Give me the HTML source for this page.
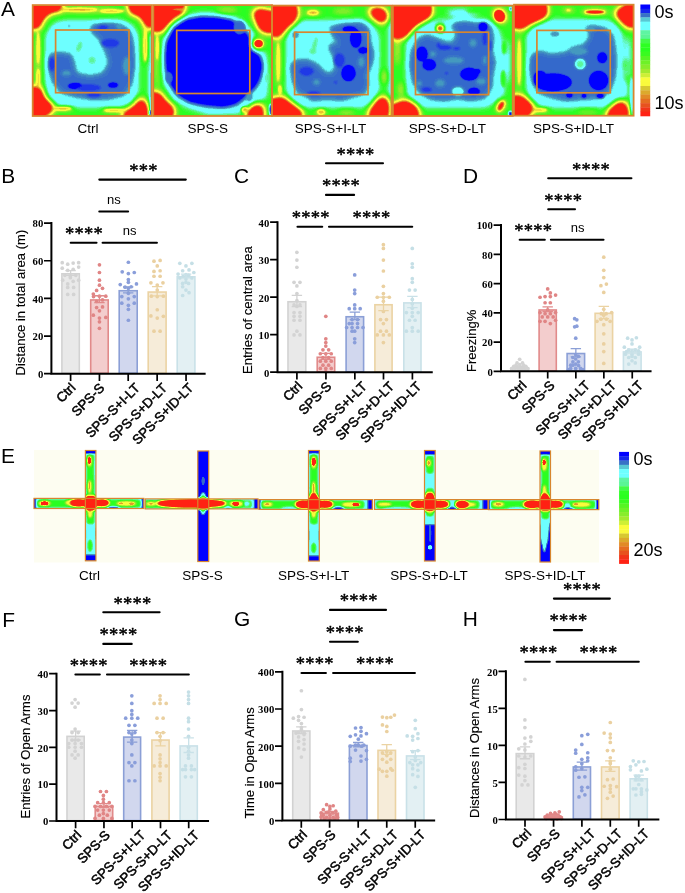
<!DOCTYPE html>
<html lang="en"><head><meta charset="utf-8"><title>Figure: open field and elevated plus maze</title>
<style>html,body{margin:0;padding:0;background:#fff}body{width:685px;height:893px;overflow:hidden}svg{display:block}.s{font-family:'Liberation Sans', Arial, Helvetica, sans-serif}.t{font-family:'Liberation Serif', 'Times New Roman', Times, serif;font-weight:bold;font-size:10.7px;letter-spacing:0.1px;text-anchor:end}.xl{font-family:'Liberation Sans', Arial, Helvetica, sans-serif;font-size:13.3px;text-anchor:end;stroke:#000;stroke-width:0.5px;stroke-linejoin:round}.yl{font-family:'Liberation Sans', Arial, Helvetica, sans-serif;font-size:13.05px;stroke:#000;stroke-width:0.15px}.st{font-family:'Liberation Serif', 'Times New Roman', Times, serif;font-size:18.6px;letter-spacing:0.2px;text-anchor:middle;stroke:#000;stroke-width:0.45px;stroke-linejoin:round}.ns{font-family:'Liberation Sans', Arial, Helvetica, sans-serif;font-size:13px;text-anchor:middle}.cap{font-family:'Liberation Sans', Arial, Helvetica, sans-serif;font-size:13.5px;text-anchor:middle}.L{font-family:'Liberation Sans', Arial, Helvetica, sans-serif;font-size:20.9px}.cb{font-family:'Liberation Sans', Arial, Helvetica, sans-serif;font-size:18px}</style></head><body>
<svg width="685" height="893" viewBox="0 0 685 893" role="img" aria-label="Open field and elevated plus maze results">
<rect width="685" height="893" fill="#fff"/>
<defs>
<filter id="hm" x="0" y="0" width="1" height="1" color-interpolation-filters="sRGB"><feGaussianBlur stdDeviation="1.0"/><feComponentTransfer><feFuncR type="discrete" tableValues="0 0 0 0 0 0 0 0 0 0.016 0.069 0.122 0.157 0.174 0.191 0.207 0.223 0.238 0.252 0.267 0.303 0.359 0.415 0.431 0.431 0.431 0.431 0.431 0.431 0.414 0.39 0.36 0.319 0.279 0.241 0.205 0.168 0.197 0.254 0.311 0.368 0.426 0.493 0.562 0.63 0.699 0.783 0.869 0.955 0.98 0.98 0.98 0.977 0.942 0.907 0.883 0.887 0.891 0.895 0.905 0.915 0.933 0.973 1 1 1 1 1 1 1 1 1 1 1 1 1 1 1 1 1"/><feFuncG type="discrete" tableValues="0 0 0 0 0 0 0 0 0 0.029 0.127 0.225 0.294 0.333 0.373 0.412 0.456 0.505 0.554 0.603 0.694 0.827 0.96 1 1 1 1 1 1 0.989 0.972 0.963 0.971 0.98 0.986 0.992 0.998 0.991 0.979 0.967 0.955 0.942 0.937 0.932 0.927 0.922 0.94 0.961 0.982 0.988 0.988 0.988 0.978 0.877 0.776 0.684 0.61 0.537 0.464 0.394 0.324 0.253 0.183 0.133 0.133 0.133 0.133 0.133 0.133 0.133 0.133 0.133 0.133 0.133 0.133 0.133 0.133 0.133 0.133 0.133"/><feFuncB type="discrete" tableValues="1 1 1 1 1 1 1 1 1 0.987 0.945 0.903 0.87 0.846 0.821 0.797 0.779 0.77 0.76 0.75 0.791 0.882 0.973 1 1 1 1 1 1 0.897 0.75 0.605 0.467 0.328 0.259 0.197 0.136 0.123 0.132 0.14 0.148 0.156 0.166 0.175 0.185 0.195 0.207 0.219 0.232 0.235 0.235 0.235 0.233 0.212 0.191 0.173 0.161 0.148 0.136 0.126 0.117 0.105 0.089 0.078 0.078 0.078 0.078 0.078 0.078 0.078 0.078 0.078 0.078 0.078 0.078 0.078 0.078 0.078 0.078 0.078"/></feComponentTransfer><feGaussianBlur stdDeviation="0.6"/></filter>
<filter id="pm" x="0" y="0" width="1" height="1" color-interpolation-filters="sRGB"><feGaussianBlur stdDeviation="0.55"/><feComponentTransfer><feFuncR type="discrete" tableValues="0 0 0 0 0 0 0 0 0 0.016 0.069 0.122 0.157 0.174 0.191 0.207 0.223 0.238 0.252 0.267 0.303 0.359 0.415 0.431 0.431 0.431 0.431 0.431 0.431 0.414 0.39 0.36 0.319 0.279 0.241 0.205 0.168 0.197 0.254 0.311 0.368 0.426 0.493 0.562 0.63 0.699 0.783 0.869 0.955 0.98 0.98 0.98 0.977 0.942 0.907 0.883 0.887 0.891 0.895 0.905 0.915 0.933 0.973 1 1 1 1 1 1 1 1 1 1 1 1 1 1 1 1 1"/><feFuncG type="discrete" tableValues="0 0 0 0 0 0 0 0 0 0.029 0.127 0.225 0.294 0.333 0.373 0.412 0.456 0.505 0.554 0.603 0.694 0.827 0.96 1 1 1 1 1 1 0.989 0.972 0.963 0.971 0.98 0.986 0.992 0.998 0.991 0.979 0.967 0.955 0.942 0.937 0.932 0.927 0.922 0.94 0.961 0.982 0.988 0.988 0.988 0.978 0.877 0.776 0.684 0.61 0.537 0.464 0.394 0.324 0.253 0.183 0.133 0.133 0.133 0.133 0.133 0.133 0.133 0.133 0.133 0.133 0.133 0.133 0.133 0.133 0.133 0.133 0.133"/><feFuncB type="discrete" tableValues="1 1 1 1 1 1 1 1 1 0.987 0.945 0.903 0.87 0.846 0.821 0.797 0.779 0.77 0.76 0.75 0.791 0.882 0.973 1 1 1 1 1 1 0.897 0.75 0.605 0.467 0.328 0.259 0.197 0.136 0.123 0.132 0.14 0.148 0.156 0.166 0.175 0.185 0.195 0.207 0.219 0.232 0.235 0.235 0.235 0.233 0.212 0.191 0.173 0.161 0.148 0.136 0.126 0.117 0.105 0.089 0.078 0.078 0.078 0.078 0.078 0.078 0.078 0.078 0.078 0.078 0.078 0.078 0.078 0.078 0.078 0.078 0.078"/></feComponentTransfer><feGaussianBlur stdDeviation="0.45"/></filter>
<filter id="bA" x="-0.5" y="-0.5" width="2" height="2" color-interpolation-filters="sRGB"><feGaussianBlur stdDeviation="2.6"/></filter>
<filter id="bE" x="-0.5" y="-0.5" width="2" height="2" color-interpolation-filters="sRGB"><feGaussianBlur stdDeviation="1.1"/></filter>
<filter id="wA" x="-0.5" y="-0.5" width="2" height="2" color-interpolation-filters="sRGB"><feGaussianBlur stdDeviation="3.6"/></filter>
<filter id="wE" x="-0.5" y="-0.5" width="2" height="2" color-interpolation-filters="sRGB"><feGaussianBlur stdDeviation="1.5"/></filter>
</defs>
<g id="panelA">
<text class="L" x="0.9" y="15.9">A</text>
<clipPath id="ca0"><rect x="32.7" y="5.1" width="119.1" height="110.9"/></clipPath>
<g clip-path="url(#ca0)"><g filter="url(#hm)"><g filter="url(#bA)">
<rect x="16.7" y="-10.9" width="151.1" height="142.9" fill="#757575"/>
<rect x="45.33" y="20.25" width="93.43" height="87.59" rx="20.07" fill="#525252"/><rect x="148.61" y="33.02" width="12.77" height="89.42" rx="0" fill="#525252"/><polygon points="47.34,54.92 57.37,51.27 71.61,53.46 74.89,62.22 76.72,72.44 90.22,75.36 102.99,72.44 108.1,62.22 104.45,51.27 97.88,38.5 89.85,31.2 90.95,23.9 106.64,20.98 121.24,22.8 131.46,31.2 135.11,47.62 136.2,65.87 132.55,84.12 125.26,95.43 110.29,99.45 93.87,100.54 75.62,97.62 61.02,93.61 51.9,82.29 47.15,69.52" fill="#323232"/><ellipse cx="84.74" cy="10.39" rx="34.67" ry="2.37" fill="#9e9e9e"/><ellipse cx="38.21" cy="62.22" rx="2.19" ry="31.02" fill="#9e9e9e"/><ellipse cx="145.33" cy="45.8" rx="2.19" ry="18.25" fill="#9e9e9e"/><ellipse cx="62.85" cy="108.93" rx="12.77" ry="2.19" fill="#9e9e9e"/><ellipse cx="113.94" cy="110.39" rx="13.69" ry="1.82" fill="#9e9e9e"/>
</g>
<g filter="url(#wA)"><polygon points="24.53,-3.47 62.12,-3.47 61.39,10.76 53.36,11.49 46.06,15.87 41.31,22.8 39.85,28.64 24.53,28.64" fill="#ffffff"/><polygon points="127.08,-3.47 161.39,-3.47 161.39,25.72 151.9,26.09 147.15,31.2 144.6,22.8 139.12,15.5 129.64,13.31" fill="#ffffff"/><polygon points="24.53,87.4 40.22,87.04 44.23,98.35 53.72,106.01 51.53,112.22 40.95,118.79 24.53,122.44" fill="#ffffff"/><polygon points="122.15,122.44 123.8,112.58 134.38,106.38 140.22,98.35 144.96,100.54 148.25,109.66 147.88,122.44" fill="#ffffff"/></g>
<ellipse cx="79.27" cy="9.66" rx="18.25" ry="1.82" fill="#b5b5b5"/><ellipse cx="112.12" cy="11.12" rx="12.77" ry="1.82" fill="#b0b0b0"/><ellipse cx="38.21" cy="78.64" rx="1.82" ry="10.04" fill="#b0b0b0"/><ellipse cx="38.21" cy="47.62" rx="1.46" ry="16.42" fill="#b0b0b0"/><ellipse cx="145.33" cy="45.8" rx="1.82" ry="16.42" fill="#b0b0b0"/><ellipse cx="62.85" cy="108.57" rx="9.12" ry="1.82" fill="#b5b5b5"/><ellipse cx="113.94" cy="110.21" rx="10.95" ry="1.82" fill="#b0b0b0"/><rect x="150.26" y="71.34" width="11.13" height="51.09" rx="0" fill="#323232"/><ellipse cx="150.8" cy="112.58" rx="1.46" ry="2.55" fill="#000000"/><ellipse cx="79.27" cy="46.71" rx="3.65" ry="6.57" fill="#636363" transform="rotate(20 79.27 46.71)"/><ellipse cx="92.04" cy="60.39" rx="4.74" ry="4.56" fill="#636363"/><ellipse cx="75.62" cy="85.94" rx="7.3" ry="2.55" fill="#000000"/><ellipse cx="113.03" cy="85.03" rx="4.56" ry="2.01" fill="#000000"/><ellipse cx="110.29" cy="43.06" rx="9.12" ry="4.38" fill="#242424"/><ellipse cx="102.99" cy="27.55" rx="5.47" ry="2.55" fill="#242424"/><ellipse cx="93.87" cy="95.07" rx="7.3" ry="2.74" fill="#242424"/><ellipse cx="51.9" cy="64.04" rx="3.28" ry="7.3" fill="#242424"/><ellipse cx="88.39" cy="87.77" rx="12.77" ry="3.65" fill="#242424"/><ellipse cx="69.23" cy="25.72" rx="1.64" ry="2.55" fill="#3e3e3e"/><ellipse cx="126.72" cy="65.87" rx="4.01" ry="9.12" fill="#3e3e3e"/><ellipse cx="119.42" cy="26.64" rx="3.65" ry="2.55" fill="#3e3e3e"/><ellipse cx="66.5" cy="73.17" rx="4.56" ry="2.74" fill="#3e3e3e"/>
</g></g>
<rect x="32.7" y="5.1" width="119.1" height="110.9" fill="none" stroke="#d7862f" stroke-width="1.8"/>
<rect x="55.6" y="30" width="73.4" height="62.7" fill="none" stroke="#d7862f" stroke-width="1.7"/>
<text class="cap" x="88" y="132.5">Ctrl</text>
<clipPath id="ca1"><rect x="153.3" y="5.1" width="118.7" height="110.9"/></clipPath>
<g clip-path="url(#ca1)"><g filter="url(#hm)"><g filter="url(#bA)">
<rect x="137.3" y="-10.9" width="150.7" height="142.9" fill="#757575"/>
<polygon points="161.31,56.74 162.77,40.32 170.44,24.81 184.67,15.69 201.09,12.58 219.34,13.31 235.77,16.6 248.54,25.72 259.49,38.5 266.79,56.74 268.61,78.64 266.79,96.89 252.19,107.84 237.59,113.68 208.39,114.77 186.5,107.84 173.72,100.54 164.6,85.94 161.31,71.34" fill="#525252"/><polygon points="165.51,56.74 166.79,42.15 174.09,27.91 186.5,19.7 201.09,16.96 217.52,17.69 232.12,20.61 241.24,27.55 249.45,36.67 250.73,49.81 259.49,55.28 262.41,65.87 259.85,78.64 255.84,86.31 246.72,95.43 235.77,104.19 222.99,107.11 204.74,105.28 190.15,102.36 177.37,95.07 170.07,84.12 166.42,71.34" fill="#000000"/><ellipse cx="208.39" cy="60.39" rx="36.5" ry="36.5" fill="#000000"/><ellipse cx="157.3" cy="62.22" rx="1.82" ry="27.37" fill="#9e9e9e"/><ellipse cx="226.64" cy="10.39" rx="10.95" ry="2.19" fill="#9e9e9e"/><ellipse cx="258.58" cy="43.61" rx="9.12" ry="8.39" fill="#757575"/><ellipse cx="258.58" cy="43.61" rx="6.2" ry="5.47" fill="#a1a1a1"/>
</g>
<g filter="url(#wA)"><polygon points="144.53,-3.47 185.04,-3.47 183.94,12.22 173.36,18.06 165.33,26.82 160.95,32.66 144.53,29.37" fill="#ffffff"/><polygon points="252.55,12.95 257.66,8.57 267.15,10.39 281.39,12.95 281.39,31.2 267.15,33.39 259.49,29.74 255.84,20.25" fill="#ffffff"/><polygon points="144.53,92.88 159.12,91.96 164.96,100.54 174.27,108.2 173.36,118.79 144.53,122.44" fill="#ffffff"/><polygon points="246.72,122.44 247.45,111.85 252.19,106.01 259.49,103.82 263.5,107.84 263.14,122.44" fill="#ffffff"/></g>
<ellipse cx="258.58" cy="43.61" rx="4.01" ry="3.47" fill="#ffffff"/><ellipse cx="239.42" cy="27.55" rx="6.57" ry="7.66" fill="#323232"/><ellipse cx="169.16" cy="77.73" rx="4.38" ry="6.2" fill="#323232"/><ellipse cx="249.45" cy="96.89" rx="4.01" ry="5.47" fill="#3e3e3e"/><ellipse cx="265.88" cy="77.73" rx="1.82" ry="4.56" fill="#636363"/><ellipse cx="270.8" cy="109.66" rx="1.28" ry="5.47" fill="#000000"/><ellipse cx="157.3" cy="47.62" rx="1.46" ry="12.77" fill="#b0b0b0"/><ellipse cx="177.37" cy="9.3" rx="7.3" ry="1.82" fill="#b0b0b0"/><ellipse cx="244.89" cy="109.66" rx="3.65" ry="2.92" fill="#b0b0b0"/>
</g></g>
<rect x="153.3" y="5.1" width="118.7" height="110.9" fill="none" stroke="#d7862f" stroke-width="1.8"/>
<rect x="176.7" y="30.4" width="73.1" height="63.1" fill="none" stroke="#d7862f" stroke-width="1.7"/>
<text class="cap" x="207.8" y="132.5">SPS-S</text>
<clipPath id="ca2"><rect x="272.1" y="5.6" width="119.4" height="110.4"/></clipPath>
<g clip-path="url(#ca2)"><g filter="url(#hm)"><g filter="url(#bA)">
<rect x="256.1" y="-10.4" width="151.4" height="142.4" fill="#757575"/>
<rect x="286.06" y="20.25" width="93.43" height="87.59" rx="20.99" fill="#525252"/><rect x="388.25" y="18.42" width="13.14" height="80.29" rx="0" fill="#525252"/><polygon points="328.39,26.64 342.99,22.07 361.24,20.25 369.64,27.55 371.46,43.06 375.11,54.01 372.55,64.96 367.81,74.99 369.64,84.12 365.26,94.34 352.12,97.99 342.99,100.91 324.74,99.99 311.97,101.82 306.5,97.26 297.37,93.61 291.9,82.29 288.98,65.87 293.72,60.03 306.5,58.2 317.45,63.13 324.74,71.34 331.13,73.17 335.33,64.96 332.04,55.83 327.48,47.62 330.22,43.06 338.43,43.97 332.04,36.67" fill="#323232"/><ellipse cx="312.88" cy="12.95" rx="9.12" ry="2.37" fill="#9e9e9e"/><ellipse cx="342.99" cy="11.12" rx="10.95" ry="1.82" fill="#9e9e9e"/><ellipse cx="278.21" cy="62.22" rx="2.19" ry="27.37" fill="#9e9e9e"/><ellipse cx="321.09" cy="112.22" rx="7.3" ry="2.19" fill="#9e9e9e"/><ellipse cx="346.64" cy="111.85" rx="9.12" ry="1.82" fill="#9e9e9e"/><ellipse cx="384.23" cy="76.82" rx="2.92" ry="7.3" fill="#9e9e9e"/>
</g>
<g filter="url(#wA)"><polygon points="264.53,-3.47 293.36,-3.47 298.47,13.68 294.09,22.07 286.79,27.55 281.31,34.85 277.3,37.95 264.53,33.02" fill="#ffffff"/><polygon points="367.81,11.12 373.65,7.47 383.5,8.57 387.52,14.41 386.42,21.34 382.41,23.53 375.84,19.7" fill="#ffffff"/><polygon points="264.53,101.45 280.95,96.53 288.25,101.27 299.2,109.66 304.31,113.68 297.37,122.44 264.53,122.44" fill="#ffffff"/><polygon points="368.18,122.44 369.64,111.12 375.84,102.36 381.31,96.53 387.15,98.35 389.34,107.84 386.79,122.44" fill="#ffffff"/></g>
<ellipse cx="312.88" cy="12.58" rx="5.84" ry="2.55" fill="#b0b0b0"/><ellipse cx="278.21" cy="62.22" rx="1.46" ry="20.07" fill="#b0b0b0"/><ellipse cx="280.04" cy="89.59" rx="1.82" ry="4.56" fill="#b0b0b0"/><ellipse cx="321.09" cy="112.04" rx="4.01" ry="2.92" fill="#b0b0b0"/><ellipse cx="314.71" cy="44.88" rx="3.28" ry="9.12" fill="#636363" transform="rotate(15 314.71 44.88)"/><ellipse cx="312.88" cy="51.27" rx="4.74" ry="4.01" fill="#636363"/><ellipse cx="295.55" cy="34.85" rx="4.01" ry="4.01" fill="#3e3e3e"/><ellipse cx="349.38" cy="29.37" rx="6.39" ry="2.55" fill="#000000"/><ellipse cx="355.77" cy="38.5" rx="5.11" ry="8.76" fill="#000000"/><ellipse cx="363.07" cy="50.36" rx="4.38" ry="2.55" fill="#000000"/><ellipse cx="348.47" cy="73.17" rx="6.57" ry="7.66" fill="#000000"/><ellipse cx="335.69" cy="82.29" rx="1.82" ry="1.46" fill="#242424"/><ellipse cx="313.8" cy="93.24" rx="7.3" ry="2.19" fill="#242424"/><ellipse cx="306.5" cy="71.34" rx="7.3" ry="4.56" fill="#242424"/><ellipse cx="339.34" cy="60.39" rx="5.47" ry="7.3" fill="#242424"/><ellipse cx="316.53" cy="82.29" rx="3.28" ry="2.92" fill="#3e3e3e"/><ellipse cx="361.24" cy="62.22" rx="3.28" ry="5.11" fill="#3e3e3e"/>
</g></g>
<rect x="272.1" y="5.6" width="119.4" height="110.4" fill="none" stroke="#d7862f" stroke-width="1.8"/>
<rect x="294.6" y="32.2" width="73.4" height="62.4" fill="none" stroke="#d7862f" stroke-width="1.7"/>
<text class="cap" x="330.5" y="132.5">SPS-S+I-LT</text>
<clipPath id="ca3"><rect x="392.9" y="5.6" width="119.8" height="110.4"/></clipPath>
<g clip-path="url(#ca3)"><g filter="url(#hm)"><g filter="url(#bA)">
<rect x="376.9" y="-10.4" width="151.8" height="142.4" fill="#757575"/>
<rect x="406.06" y="19.52" width="95.62" height="88.32" rx="20.99" fill="#525252"/><ellipse cx="506.79" cy="62.22" rx="3.28" ry="21.9" fill="#525252"/><ellipse cx="462.99" cy="12.95" rx="16.42" ry="4.01" fill="#525252"/><ellipse cx="499.49" cy="87.77" rx="5.47" ry="10.95" fill="#525252"/><polygon points="410.07,51.27 417.37,38.5 426.5,33.93 435.62,37.04 444.74,40.69 452.04,42.51 456.06,34.85 450.58,25.72 455.69,20.25 466.64,19.34 477.59,22.07 484.89,20.25 492.19,25.72 494.38,38.5 492.55,49.45 496.2,62.22 493.47,74.99 492.55,87.77 485.26,99.08 470.29,101.82 457.52,99.08 444.74,101.82 430.15,99.99 419.2,93.61 411.9,82.29 408.25,65.87" fill="#323232"/><ellipse cx="397.3" cy="47.62" rx="2.19" ry="18.25" fill="#9e9e9e"/><ellipse cx="400.95" cy="89.59" rx="2.55" ry="7.3" fill="#9e9e9e"/><ellipse cx="475.77" cy="10.76" rx="10.95" ry="1.82" fill="#757575"/><ellipse cx="503.14" cy="78.64" rx="2.55" ry="9.12" fill="#636363"/><ellipse cx="504.05" cy="47.62" rx="2.19" ry="7.3" fill="#636363"/><ellipse cx="440.18" cy="28.46" rx="4.38" ry="4.38" fill="#a1a1a1"/><ellipse cx="500.95" cy="106.01" rx="4.74" ry="7.3" fill="#a1a1a1" transform="rotate(30 500.95 106.01)"/>
</g>
<g filter="url(#wA)"><polygon points="384.53,-3.47 429.78,-3.47 432.34,13.68 426.86,19.52 417.74,24.26 410.44,31.56 405.69,37.04 399.12,39.04 384.53,34.85" fill="#ffffff"/><polygon points="493.65,11.85 499.49,8.93 505.33,14.41 505.51,20.25 501.68,22.44 496.57,18.79" fill="#ffffff"/><polygon points="384.53,106.93 396.2,103.82 402.77,100.18 410.07,102 417.74,107.84 419.93,122.44 384.53,122.44" fill="#ffffff"/></g>
<ellipse cx="440.18" cy="28.46" rx="3.83" ry="3.83" fill="#a1a1a1"/><ellipse cx="440.18" cy="28.46" rx="2.37" ry="2.37" fill="#c7c7c7"/><ellipse cx="500.95" cy="106.01" rx="4.01" ry="6.57" fill="#a1a1a1" transform="rotate(30 500.95 106.01)"/><ellipse cx="500.95" cy="106.01" rx="2.37" ry="4.93" fill="#cccccc" transform="rotate(30 500.95 106.01)"/><ellipse cx="499.49" cy="15.87" rx="6.57" ry="7.66" fill="#a1a1a1" transform="rotate(-30 499.49 15.87)"/><ellipse cx="499.49" cy="15.87" rx="4.56" ry="5.66" fill="#ffffff" transform="rotate(-30 499.49 15.87)"/><ellipse cx="504.23" cy="47.62" rx="2.37" ry="6.93" fill="#757575"/><ellipse cx="503.14" cy="78.64" rx="2.55" ry="8.76" fill="#757575"/><ellipse cx="475.77" cy="11.12" rx="9.12" ry="1.64" fill="#757575"/><ellipse cx="457.88" cy="91.42" rx="6.02" ry="4.38" fill="#525252"/><ellipse cx="421.93" cy="54.01" rx="5.11" ry="6.93" fill="#000000"/><ellipse cx="429.23" cy="64.96" rx="6.2" ry="5.11" fill="#000000"/><ellipse cx="469.38" cy="74.08" rx="8.76" ry="5.84" fill="#000000"/><ellipse cx="483.07" cy="26.64" rx="4.01" ry="4.01" fill="#000000"/><ellipse cx="484.89" cy="38.5" rx="2.55" ry="7.3" fill="#242424"/><ellipse cx="444.74" cy="47.62" rx="7.3" ry="2.55" fill="#242424"/><ellipse cx="426.5" cy="89.59" rx="5.47" ry="2.55" fill="#242424"/><ellipse cx="473.94" cy="91.42" rx="5.47" ry="3.1" fill="#000000"/><ellipse cx="477.59" cy="71.34" rx="2.74" ry="1.82" fill="#000000"/><ellipse cx="456.61" cy="48.53" rx="3.65" ry="1.82" fill="#242424"/><ellipse cx="438.36" cy="44.88" rx="1.82" ry="2.74" fill="#242424"/><ellipse cx="446.57" cy="73.17" rx="1.82" ry="1.46" fill="#242424"/><ellipse cx="490.36" cy="45.8" rx="1.46" ry="5.47" fill="#242424"/><ellipse cx="453.87" cy="60.39" rx="10.04" ry="3.65" fill="#3e3e3e"/><ellipse cx="473.03" cy="43.06" rx="3.47" ry="3.83" fill="#3e3e3e"/><ellipse cx="440.18" cy="83.2" rx="4.93" ry="3.83" fill="#3e3e3e"/><ellipse cx="481.24" cy="81.38" rx="4.93" ry="3.47" fill="#3e3e3e"/><ellipse cx="432.88" cy="54.01" rx="3.1" ry="2.74" fill="#3e3e3e"/><ellipse cx="419.2" cy="83.2" rx="2.55" ry="2.55" fill="#3e3e3e"/><ellipse cx="484.89" cy="60.39" rx="2.01" ry="4.38" fill="#3e3e3e"/><ellipse cx="510.44" cy="113.68" rx="1.64" ry="2.55" fill="#000000"/><ellipse cx="510.8" cy="8.93" rx="1.09" ry="1.82" fill="#000000"/>
</g></g>
<rect x="392.9" y="5.6" width="119.8" height="110.4" fill="none" stroke="#d7862f" stroke-width="1.8"/>
<rect x="415.5" y="32.2" width="73.1" height="62.4" fill="none" stroke="#d7862f" stroke-width="1.7"/>
<text class="cap" x="447.4" y="132.5">SPS-S+D-LT</text>
<clipPath id="ca4"><rect x="514" y="4.7" width="119.6" height="111"/></clipPath>
<g clip-path="url(#ca4)"><g filter="url(#hm)"><g filter="url(#bA)">
<rect x="498" y="-11.3" width="151.6" height="143" fill="#757575"/>
<rect x="526.33" y="19.15" width="96.72" height="88.69" rx="20.99" fill="#525252"/><ellipse cx="627.79" cy="56.74" rx="2.92" ry="20.07" fill="#525252"/><ellipse cx="622.31" cy="89.59" rx="5.47" ry="10.95" fill="#525252"/><polygon points="529.25,56.74 538.37,49.81 551.15,53.46 565.74,51.64 573.04,46.16 583.99,44.34 589.47,35.21 583.99,26.09 593.12,24.81 605.89,27.55 613.55,34.85 616.29,49.45 617.2,64.04 615.38,78.64 609.91,93.24 598.59,99.08 583.99,99.99 565.74,101.82 551.15,98.17 538.37,93.61 531.07,82.29 528.15,69.52" fill="#323232"/><ellipse cx="519.21" cy="62.22" rx="2.19" ry="29.2" fill="#9e9e9e"/><ellipse cx="540.2" cy="110.03" rx="10.95" ry="2.01" fill="#9e9e9e"/><ellipse cx="587.64" cy="111.12" rx="10.95" ry="1.64" fill="#9e9e9e"/><ellipse cx="625.05" cy="64.96" rx="2.92" ry="6.93" fill="#757575"/><ellipse cx="568.48" cy="10.39" rx="7.3" ry="2.01" fill="#a1a1a1"/><ellipse cx="594.94" cy="12.04" rx="13.69" ry="2.55" fill="#b5b5b5"/>
</g>
<g filter="url(#wA)"><polygon points="505.53,-3.47 544.21,-3.47 547.86,11.12 546.04,16.96 538.74,20.61 529.25,24.26 521.95,29.74 505.53,25.72" fill="#ffffff"/><polygon points="614.28,12.95 620.49,7.84 642.39,-3.47 642.39,26.82 628.15,27.91 620.49,20.61" fill="#ffffff"/><polygon points="505.53,97.26 520.12,94.7 527.42,100.54 534.18,106.93 531.44,112.22 521.95,122.44 505.53,122.44" fill="#ffffff"/><polygon points="606.62,122.44 607.72,112.04 613.19,106.01 620.49,101.09 625.6,102.91 628.52,111.49 627.79,122.44" fill="#ffffff"/></g>
<ellipse cx="594.94" cy="12.04" rx="10.04" ry="1.09" fill="#ffffff"/><ellipse cx="568.48" cy="10.21" rx="2.55" ry="0.91" fill="#b5b5b5"/><ellipse cx="519.21" cy="62.22" rx="1.46" ry="23.72" fill="#b0b0b0"/><ellipse cx="540.2" cy="109.85" rx="7.3" ry="1.82" fill="#b0b0b0"/><ellipse cx="580.34" cy="64.04" rx="5.11" ry="5.11" fill="#636363"/><ellipse cx="554.8" cy="33.93" rx="5.11" ry="3.28" fill="#3e3e3e"/><ellipse cx="578.52" cy="51.27" rx="9.12" ry="4.01" fill="#3e3e3e"/><ellipse cx="591.29" cy="29.37" rx="4.38" ry="2.55" fill="#3e3e3e"/><ellipse cx="552.97" cy="82.29" rx="18.25" ry="8.39" fill="#000000"/><ellipse cx="540.2" cy="78.64" rx="6.39" ry="7.3" fill="#000000"/><ellipse cx="598.59" cy="80.47" rx="9.12" ry="9.12" fill="#000000"/><ellipse cx="602.24" cy="57.66" rx="4.38" ry="4.93" fill="#000000"/><ellipse cx="569.39" cy="95.07" rx="2.74" ry="2.19" fill="#000000"/><ellipse cx="583.99" cy="95.98" rx="2.19" ry="1.82" fill="#000000"/><ellipse cx="600.42" cy="95.98" rx="3.65" ry="1.82" fill="#000000"/><ellipse cx="631.62" cy="96.89" rx="1.09" ry="20.07" fill="#323232"/>
</g></g>
<rect x="514" y="4.7" width="119.6" height="111" fill="none" stroke="#d7862f" stroke-width="1.8"/>
<rect x="536.9" y="30.4" width="73.4" height="62.4" fill="none" stroke="#d7862f" stroke-width="1.7"/>
<text class="cap" x="573.5" y="132.5">SPS-S+ID-LT</text>
<rect x="640.4" y="4.5" width="9.8" height="4.59" fill="#0000ff"/>
<rect x="640.4" y="8.79" width="9.8" height="4.59" fill="#1426ed"/>
<rect x="640.4" y="13.08" width="9.8" height="4.59" fill="#3872c6"/>
<rect x="640.4" y="17.37" width="9.8" height="4.59" fill="#58c8d4"/>
<rect x="640.4" y="21.65" width="9.8" height="4.59" fill="#6effff"/>
<rect x="640.4" y="25.94" width="9.8" height="4.59" fill="#6effff"/>
<rect x="640.4" y="30.23" width="9.8" height="4.59" fill="#5ef5a2"/>
<rect x="640.4" y="34.52" width="9.8" height="4.59" fill="#5af596"/>
<rect x="640.4" y="38.81" width="9.8" height="4.59" fill="#42fb48"/>
<rect x="640.4" y="43.1" width="9.8" height="4.59" fill="#2dff23"/>
<rect x="640.4" y="47.38" width="9.8" height="4.59" fill="#29ff1f"/>
<rect x="640.4" y="51.67" width="9.8" height="4.59" fill="#39fb20"/>
<rect x="640.4" y="55.96" width="9.8" height="4.59" fill="#55f523"/>
<rect x="640.4" y="60.25" width="9.8" height="4.59" fill="#6ef127"/>
<rect x="640.4" y="64.54" width="9.8" height="4.59" fill="#87ed2b"/>
<rect x="640.4" y="68.83" width="9.8" height="4.59" fill="#a3ea2f"/>
<rect x="640.4" y="73.12" width="9.8" height="4.59" fill="#ceef36"/>
<rect x="640.4" y="77.4" width="9.8" height="4.59" fill="#fafc3c"/>
<rect x="640.4" y="81.69" width="9.8" height="4.59" fill="#f9fa3c"/>
<rect x="640.4" y="85.98" width="9.8" height="4.59" fill="#d7c832"/>
<rect x="640.4" y="90.27" width="9.8" height="4.59" fill="#dca92c"/>
<rect x="640.4" y="94.56" width="9.8" height="4.59" fill="#e18a26"/>
<rect x="640.4" y="98.85" width="9.8" height="4.59" fill="#e56d21"/>
<rect x="640.4" y="103.13" width="9.8" height="4.59" fill="#e7521e"/>
<rect x="640.4" y="107.42" width="9.8" height="4.59" fill="#f13519"/>
<rect x="640.4" y="111.71" width="9.8" height="4.59" fill="#ff2214"/>
<text class="cb" x="654.5" y="18.2">0s</text>
<text class="cb" x="654.5" y="109.2">10s</text>
</g>
<g id="panelE">
<text class="L" x="1.1" y="462.7">E</text>
<rect x="34" y="450" width="565" height="112.5" fill="#fdfdf1"/>
<clipPath id="ce0"><rect x="34" y="498.4" width="109.8" height="10.1"/><rect x="85.4" y="450.5" width="10.5" height="110.3"/></clipPath>
<g clip-path="url(#ce0)"><g filter="url(#pm)"><g filter="url(#bE)">
<rect x="24" y="440.5" width="129.8" height="130.3" fill="#525252"/>
<rect x="36.82" y="499.56" width="104.18" height="7.94" rx="2.8" fill="#757575"/><rect x="86.57" y="454.01" width="7.94" height="70.54" rx="2.34" fill="#757575"/><rect x="76.06" y="440" width="28.03" height="13.08" rx="0" fill="#000000"/><rect x="76.06" y="555.39" width="28.03" height="24.76" rx="0" fill="#000000"/><rect x="20" y="486.72" width="15.42" height="32.7" rx="0" fill="#000000"/><rect x="142.39" y="486.72" width="17.75" height="32.7" rx="0" fill="#000000"/><ellipse cx="113.43" cy="508.44" rx="6.07" ry="1.4" fill="#000000"/><ellipse cx="90.07" cy="532.5" rx="5.14" ry="7.94" fill="#525252"/><ellipse cx="96.61" cy="533.43" rx="1.17" ry="8.18" fill="#323232"/><ellipse cx="84.7" cy="533.43" rx="1.17" ry="8.18" fill="#323232"/><ellipse cx="90.07" cy="545.58" rx="2.8" ry="6.54" fill="#757575"/><ellipse cx="95.21" cy="468.03" rx="1.17" ry="11.68" fill="#525252"/><ellipse cx="44.53" cy="503.3" rx="6.31" ry="3.04" fill="#a1a1a1"/><ellipse cx="126.28" cy="503.53" rx="10.28" ry="2.8" fill="#a1a1a1"/><ellipse cx="70.92" cy="502.6" rx="5.84" ry="3.04" fill="#a1a1a1"/><ellipse cx="89.37" cy="461.02" rx="2.8" ry="5.84" fill="#a1a1a1"/><ellipse cx="89.61" cy="486.72" rx="2.1" ry="7.01" fill="#a1a1a1"/><ellipse cx="90.07" cy="512.88" rx="2.57" ry="5.14" fill="#a1a1a1"/>
</g>
<g filter="url(#wE)"><ellipse cx="78.86" cy="502.83" rx="8.41" ry="3.74" fill="#ffffff"/><ellipse cx="101.75" cy="502.83" rx="7.47" ry="3.5" fill="#ffffff"/><rect x="85.4" y="496.06" width="10.51" height="14.01" rx="1.17" fill="#ffffff"/></g>
<ellipse cx="44.53" cy="503.3" rx="3.74" ry="1.87" fill="#ffffff"/><ellipse cx="120.91" cy="503.3" rx="2.34" ry="1.17" fill="#b5b5b5"/><ellipse cx="131.65" cy="503.77" rx="2.57" ry="1.4" fill="#b5b5b5"/><ellipse cx="89.37" cy="460.55" rx="1.52" ry="3.27" fill="#ffffff"/><ellipse cx="89.61" cy="485.55" rx="0.93" ry="3.5" fill="#b5b5b5"/>
</g></g>
<rect x="34" y="498.4" width="109.8" height="10.1" fill="none" stroke="#d7862f" stroke-width="1.2"/>
<rect x="85.4" y="450.5" width="10.5" height="110.3" fill="none" stroke="#d7862f" stroke-width="1.2"/>
<text class="cap" x="89.5" y="580.1">Ctrl</text>
<clipPath id="ce1"><rect x="145.2" y="498.9" width="112.8" height="10"/><rect x="197.8" y="451" width="10.9" height="110.5"/></clipPath>
<g clip-path="url(#ce1)"><g filter="url(#pm)"><g filter="url(#bE)">
<rect x="135.2" y="441" width="132.8" height="130.5" fill="#525252"/>
<rect x="141.68" y="500.03" width="110.25" height="7.94" rx="2.8" fill="#757575"/><rect x="195.4" y="440" width="15.18" height="57.93" rx="0" fill="#000000"/><rect x="195.4" y="509.61" width="15.18" height="70.54" rx="0" fill="#000000"/><ellipse cx="203.11" cy="503.53" rx="3.97" ry="12.15" fill="#525252"/><ellipse cx="203.11" cy="503.53" rx="3.5" ry="8.88" fill="#757575"/><rect x="254.73" y="486.72" width="15.42" height="32.7" rx="0" fill="#000000"/><ellipse cx="228.1" cy="508.2" rx="3.27" ry="1.4" fill="#323232"/><ellipse cx="246.79" cy="503.77" rx="2.8" ry="2.34" fill="#525252"/><ellipse cx="151.02" cy="503.77" rx="5.14" ry="2.34" fill="#a1a1a1"/><ellipse cx="191.2" cy="503.53" rx="36.2" ry="4.44" fill="#a1a1a1"/><ellipse cx="236.28" cy="503.77" rx="7.01" ry="3.04" fill="#a1a1a1"/>
</g>
<g filter="url(#wE)"><ellipse cx="191.2" cy="503.3" rx="33.87" ry="3.97" fill="#ffffff"/><rect x="198.2" y="498.86" width="10.04" height="9.58" rx="0.7" fill="#ffffff"/></g>
<ellipse cx="203.11" cy="480.88" rx="1.87" ry="4.2" fill="#323232"/><ellipse cx="235.81" cy="503.77" rx="3.27" ry="1.87" fill="#ffffff"/><ellipse cx="151.02" cy="503.77" rx="1.87" ry="0.93" fill="#b5b5b5"/>
</g></g>
<rect x="145.2" y="498.9" width="112.8" height="10" fill="none" stroke="#d7862f" stroke-width="1.2"/>
<rect x="197.8" y="451" width="10.9" height="110.5" fill="none" stroke="#d7862f" stroke-width="1.2"/>
<text class="cap" x="202.6" y="580.1">SPS-S</text>
<clipPath id="ce2"><rect x="259" y="499.6" width="113.3" height="9.8"/><rect x="308.5" y="450.5" width="10.8" height="110.5"/></clipPath>
<g clip-path="url(#ce2)"><g filter="url(#pm)"><g filter="url(#bE)">
<rect x="249" y="440.5" width="133.3" height="130.5" fill="#525252"/>
<rect x="260.88" y="500.5" width="103.71" height="8.18" rx="2.8" fill="#757575"/><rect x="309.93" y="454.01" width="7.94" height="70.54" rx="2.34" fill="#757575"/><rect x="301.06" y="440" width="28.03" height="12.85" rx="0" fill="#000000"/><rect x="301.06" y="556.32" width="28.03" height="23.82" rx="0" fill="#000000"/><rect x="245" y="486.72" width="14.95" height="32.7" rx="0" fill="#000000"/><rect x="368.33" y="486.72" width="16.82" height="32.7" rx="0" fill="#000000"/><ellipse cx="289.38" cy="508.44" rx="8.18" ry="1.64" fill="#525252"/><ellipse cx="338.43" cy="508.91" rx="5.61" ry="1.64" fill="#000000"/><ellipse cx="313.91" cy="533.43" rx="5.14" ry="8.41" fill="#525252"/><ellipse cx="319.98" cy="535.77" rx="1.17" ry="9.34" fill="#323232"/><ellipse cx="308.07" cy="535.77" rx="1.17" ry="9.34" fill="#323232"/><ellipse cx="313.67" cy="547.91" rx="2.8" ry="5.61" fill="#757575"/><ellipse cx="267.66" cy="504.23" rx="5.14" ry="2.57" fill="#a1a1a1"/><ellipse cx="351.28" cy="504.47" rx="9.81" ry="2.8" fill="#a1a1a1"/><ellipse cx="313.67" cy="462.19" rx="3.04" ry="6.54" fill="#a1a1a1"/><ellipse cx="313.67" cy="488.35" rx="2.1" ry="7.01" fill="#a1a1a1"/><ellipse cx="313.67" cy="513.34" rx="2.57" ry="4.67" fill="#a1a1a1"/>
</g>
<g filter="url(#wE)"><ellipse cx="303.39" cy="504.23" rx="7.94" ry="3.97" fill="#ffffff"/><ellipse cx="324.88" cy="504.23" rx="7.94" ry="3.74" fill="#ffffff"/><rect x="308.3" y="497.46" width="11.21" height="13.08" rx="1.17" fill="#ffffff"/><ellipse cx="313.67" cy="497.23" rx="3.27" ry="3.97" fill="#ffffff"/></g>
<ellipse cx="267.19" cy="504.23" rx="2.1" ry="1.17" fill="#b5b5b5"/><ellipse cx="355.95" cy="504.7" rx="3.27" ry="1.4" fill="#ffffff"/><ellipse cx="313.67" cy="461.72" rx="1.87" ry="3.74" fill="#ffffff"/><ellipse cx="313.67" cy="487.88" rx="0.93" ry="4.44" fill="#b5b5b5"/>
</g></g>
<rect x="259" y="499.6" width="113.3" height="9.8" fill="none" stroke="#d7862f" stroke-width="1.2"/>
<rect x="308.5" y="450.5" width="10.8" height="110.5" fill="none" stroke="#d7862f" stroke-width="1.2"/>
<text class="cap" x="313.6" y="580.1">SPS-S+I-LT</text>
<clipPath id="ce3"><rect x="374.5" y="499.6" width="113.5" height="9.8"/><rect x="424.5" y="450.5" width="10.7" height="110.5"/></clipPath>
<g clip-path="url(#ce3)"><g filter="url(#pm)"><g filter="url(#bE)">
<rect x="364.5" y="440.5" width="133.5" height="130.5" fill="#525252"/>
<rect x="375.88" y="500.5" width="103.71" height="8.18" rx="2.8" fill="#757575"/><rect x="426.1" y="455.42" width="7.71" height="18.45" rx="2.34" fill="#757575"/><rect x="426.1" y="487.88" width="7.71" height="28.73" rx="1.87" fill="#757575"/><rect x="416.06" y="440" width="28.03" height="14.01" rx="0" fill="#000000"/><rect x="416.06" y="525.26" width="28.03" height="54.89" rx="0" fill="#000000"/><rect x="483.33" y="486.72" width="16.82" height="32.7" rx="0" fill="#000000"/><ellipse cx="397.37" cy="508.67" rx="14.01" ry="1.64" fill="#525252"/><ellipse cx="452.26" cy="504.47" rx="2.57" ry="5.14" fill="#525252"/><ellipse cx="452.26" cy="509.14" rx="4.67" ry="1.64" fill="#000000"/><ellipse cx="384.53" cy="504.23" rx="7.47" ry="2.1" fill="#a1a1a1"/><ellipse cx="470.25" cy="504.47" rx="5.84" ry="2.34" fill="#a1a1a1"/><ellipse cx="428.67" cy="462.89" rx="2.57" ry="3.74" fill="#a1a1a1"/><ellipse cx="429.84" cy="510.07" rx="2.8" ry="4.2" fill="#8c8c8c"/>
</g>
<g filter="url(#wE)"><ellipse cx="462.07" cy="504.47" rx="6.31" ry="3.97" fill="#ffffff"/><ellipse cx="418.39" cy="504.23" rx="7.94" ry="3.97" fill="#ffffff"/><ellipse cx="440.58" cy="504.23" rx="7.94" ry="3.74" fill="#ffffff"/><rect x="424.23" y="497.46" width="11.21" height="13.08" rx="1.17" fill="#ffffff"/><ellipse cx="429.84" cy="496.06" rx="4.2" ry="3.27" fill="#ffffff"/></g>
<ellipse cx="430.07" cy="533.43" rx="1.64" ry="9.34" fill="#323232"/><ellipse cx="430.07" cy="547.45" rx="2.34" ry="2.34" fill="#525252"/><ellipse cx="428.67" cy="462.89" rx="1.4" ry="2.1" fill="#b5b5b5"/>
</g></g>
<rect x="374.5" y="499.6" width="113.5" height="9.8" fill="none" stroke="#d7862f" stroke-width="1.2"/>
<rect x="424.5" y="450.5" width="10.7" height="110.5" fill="none" stroke="#d7862f" stroke-width="1.2"/>
<text class="cap" x="429" y="580.1">SPS-S+D-LT</text>
<clipPath id="ce4"><rect x="488.5" y="499.6" width="110.3" height="10"/><rect x="540" y="451" width="10.5" height="111"/></clipPath>
<g clip-path="url(#ce4)"><g filter="url(#pm)"><g filter="url(#bE)">
<rect x="478.5" y="441" width="130.3" height="131" fill="#525252"/>
<rect x="490.42" y="500.5" width="105.11" height="8.41" rx="2.8" fill="#757575"/><rect x="541.34" y="454.95" width="7.94" height="64.47" rx="2.34" fill="#757575"/><rect x="531.06" y="440" width="28.03" height="14.01" rx="0" fill="#000000"/><rect x="531.06" y="554.45" width="28.03" height="25.69" rx="0" fill="#000000"/><rect x="475" y="486.72" width="14.48" height="32.7" rx="0" fill="#000000"/><rect x="596.93" y="486.72" width="18.22" height="32.7" rx="0" fill="#000000"/><ellipse cx="517.04" cy="508.67" rx="9.34" ry="1.64" fill="#525252"/><ellipse cx="567.26" cy="505.87" rx="3.27" ry="2.8" fill="#525252"/><ellipse cx="568.43" cy="509.37" rx="5.84" ry="1.4" fill="#000000"/><rect x="531.06" y="532.26" width="28.03" height="47.88" rx="0" fill="#000000"/><ellipse cx="544.37" cy="533.43" rx="4.67" ry="14.01" fill="#525252"/><ellipse cx="544.37" cy="540.44" rx="2.57" ry="12.85" fill="#525252"/><ellipse cx="551.15" cy="533.43" rx="1.64" ry="11.68" fill="#000000"/><ellipse cx="538.3" cy="533.43" rx="1.64" ry="11.68" fill="#000000"/><ellipse cx="498.36" cy="504.23" rx="6.07" ry="2.8" fill="#a1a1a1"/><ellipse cx="581.28" cy="504.47" rx="9.81" ry="2.8" fill="#a1a1a1"/><ellipse cx="544.14" cy="464.53" rx="3.04" ry="6.54" fill="#a1a1a1"/><ellipse cx="544.37" cy="490.69" rx="2.1" ry="5.84" fill="#a1a1a1"/>
</g>
<g filter="url(#wE)"><ellipse cx="532.23" cy="504.23" rx="8.64" ry="3.97" fill="#ffffff"/><ellipse cx="555.58" cy="504.23" rx="7.47" ry="3.74" fill="#ffffff"/><rect x="539.7" y="497.46" width="10.98" height="13.08" rx="1.17" fill="#ffffff"/><ellipse cx="544.84" cy="496.99" rx="3.74" ry="3.27" fill="#ffffff"/></g>
<ellipse cx="498.36" cy="504.23" rx="2.8" ry="1.4" fill="#b5b5b5"/><ellipse cx="575.91" cy="504.23" rx="2.34" ry="1.17" fill="#b5b5b5"/><ellipse cx="544.14" cy="462.19" rx="1.4" ry="2.57" fill="#ffffff"/><ellipse cx="544.37" cy="542.77" rx="1.64" ry="5.84" fill="#525252"/>
</g></g>
<rect x="488.5" y="499.6" width="110.3" height="10" fill="none" stroke="#d7862f" stroke-width="1.2"/>
<rect x="540" y="451" width="10.5" height="111" fill="none" stroke="#d7862f" stroke-width="1.2"/>
<text class="cap" x="545" y="580.1">SPS-S+ID-LT</text>
<rect x="619.1" y="451.9" width="9.9" height="4.6" fill="#0000ff"/>
<rect x="619.1" y="456.2" width="9.9" height="4.6" fill="#1426ed"/>
<rect x="619.1" y="460.49" width="9.9" height="4.6" fill="#3872c6"/>
<rect x="619.1" y="464.79" width="9.9" height="4.6" fill="#58c8d4"/>
<rect x="619.1" y="469.08" width="9.9" height="4.6" fill="#6effff"/>
<rect x="619.1" y="473.38" width="9.9" height="4.6" fill="#6effff"/>
<rect x="619.1" y="477.68" width="9.9" height="4.6" fill="#5ef5a2"/>
<rect x="619.1" y="481.97" width="9.9" height="4.6" fill="#5af596"/>
<rect x="619.1" y="486.27" width="9.9" height="4.6" fill="#42fb48"/>
<rect x="619.1" y="490.57" width="9.9" height="4.6" fill="#2dff23"/>
<rect x="619.1" y="494.86" width="9.9" height="4.6" fill="#29ff1f"/>
<rect x="619.1" y="499.16" width="9.9" height="4.6" fill="#39fb20"/>
<rect x="619.1" y="503.45" width="9.9" height="4.6" fill="#55f523"/>
<rect x="619.1" y="507.75" width="9.9" height="4.6" fill="#6ef127"/>
<rect x="619.1" y="512.05" width="9.9" height="4.6" fill="#87ed2b"/>
<rect x="619.1" y="516.34" width="9.9" height="4.6" fill="#a3ea2f"/>
<rect x="619.1" y="520.64" width="9.9" height="4.6" fill="#ceef36"/>
<rect x="619.1" y="524.93" width="9.9" height="4.6" fill="#fafc3c"/>
<rect x="619.1" y="529.23" width="9.9" height="4.6" fill="#f9fa3c"/>
<rect x="619.1" y="533.53" width="9.9" height="4.6" fill="#d7c832"/>
<rect x="619.1" y="537.82" width="9.9" height="4.6" fill="#dca92c"/>
<rect x="619.1" y="542.12" width="9.9" height="4.6" fill="#e18a26"/>
<rect x="619.1" y="546.42" width="9.9" height="4.6" fill="#e56d21"/>
<rect x="619.1" y="550.71" width="9.9" height="4.6" fill="#e7521e"/>
<rect x="619.1" y="555.01" width="9.9" height="4.6" fill="#f13519"/>
<rect x="619.1" y="559.3" width="9.9" height="4.6" fill="#ff2214"/>
<text class="cb" x="633.5" y="464.8">0s</text>
<text class="cb" x="633.5" y="555.6">20s</text>
</g>
<g id="chartB">
<text class="L" x="1.3" y="182.7">B</text>
<rect x="61.9" y="273.79" width="17.4" height="99.51" fill="#e9e9e9" stroke="#d2d2d2" stroke-width="1.6"/>
<rect x="90.7" y="299.95" width="17.5" height="73.35" fill="#f3cdcd" stroke="#e18a8a" stroke-width="1.6"/>
<rect x="119.2" y="290.73" width="18" height="82.57" fill="#d1d7ee" stroke="#8b9fd6" stroke-width="1.6"/>
<rect x="148.2" y="292.05" width="17.9" height="81.25" fill="#f6ecd9" stroke="#ebd3a3" stroke-width="1.6"/>
<rect x="177.2" y="276.8" width="17.7" height="96.5" fill="#e3f0f3" stroke="#c9e1e8" stroke-width="1.6"/>
<g fill="#d3d3d3"><circle cx="62.23" cy="262.66" r="1.85"/><circle cx="67.7" cy="264.2" r="1.85"/><circle cx="73.18" cy="263.1" r="1.85"/><circle cx="78.65" cy="262.66" r="1.85"/><circle cx="62.23" cy="268.14" r="1.85"/><circle cx="67.7" cy="270.33" r="1.85"/><circle cx="73.18" cy="269.23" r="1.85"/><circle cx="78.65" cy="267.04" r="1.85"/><circle cx="64.85" cy="275.36" r="1.85"/><circle cx="70.33" cy="276.02" r="1.85"/><circle cx="75.8" cy="275.36" r="1.85"/><circle cx="62.66" cy="280.18" r="1.85"/><circle cx="78.65" cy="280.18" r="1.85"/><circle cx="73.18" cy="281.28" r="1.85"/><circle cx="67.7" cy="283.91" r="1.85"/><circle cx="67.7" cy="287.41" r="1.85"/><circle cx="73.61" cy="287.41" r="1.85"/><circle cx="67.7" cy="294.42" r="1.85"/><circle cx="73.61" cy="294.42" r="1.85"/><circle cx="70.33" cy="277.77" r="1.85"/></g>
<path d="M65.4 270.54H75.8M70.6 270.54V275.43M65.4 275.43H75.8" stroke="#d2d2d2" stroke-width="1.3" fill="none"/>
<g fill="#e08585"><circle cx="99.45" cy="264.85" r="1.85"/><circle cx="99.45" cy="272.52" r="1.85"/><circle cx="99.45" cy="280.18" r="1.85"/><circle cx="99.45" cy="285.22" r="1.85"/><circle cx="102.52" cy="288.28" r="1.85"/><circle cx="96.61" cy="290.47" r="1.85"/><circle cx="93.32" cy="293.98" r="1.85"/><circle cx="93.54" cy="296.61" r="1.85"/><circle cx="99.45" cy="296.17" r="1.85"/><circle cx="105.8" cy="296.17" r="1.85"/><circle cx="96.61" cy="301.42" r="1.85"/><circle cx="96.61" cy="307.55" r="1.85"/><circle cx="102.52" cy="306.9" r="1.85"/><circle cx="99.45" cy="310.84" r="1.85"/><circle cx="93.32" cy="315.22" r="1.85"/><circle cx="99.45" cy="318.07" r="1.85"/><circle cx="105.8" cy="317.41" r="1.85"/><circle cx="99.45" cy="321.79" r="1.85"/><circle cx="99.45" cy="328.36" r="1.85"/><circle cx="102.52" cy="299.89" r="1.85"/></g>
<path d="M94.25 295.76H104.65M99.45 295.76V302.54M94.25 302.54H104.65" stroke="#e18a8a" stroke-width="1.3" fill="none"/>
<g fill="#8a9eda"><circle cx="128.36" cy="262.23" r="1.85"/><circle cx="122.23" cy="271.86" r="1.85"/><circle cx="134.27" cy="272.52" r="1.85"/><circle cx="128.36" cy="273.61" r="1.85"/><circle cx="128.36" cy="279.53" r="1.85"/><circle cx="128.36" cy="282.37" r="1.85"/><circle cx="120.26" cy="284.56" r="1.85"/><circle cx="136.46" cy="283.91" r="1.85"/><circle cx="125.07" cy="287.19" r="1.85"/><circle cx="131.2" cy="286.75" r="1.85"/><circle cx="128.36" cy="288.28" r="1.85"/><circle cx="121.79" cy="296.61" r="1.85"/><circle cx="134.27" cy="296.61" r="1.85"/><circle cx="128.36" cy="298.8" r="1.85"/><circle cx="121.79" cy="303.18" r="1.85"/><circle cx="134.27" cy="303.18" r="1.85"/><circle cx="128.36" cy="305.36" r="1.85"/><circle cx="128.36" cy="309.31" r="1.85"/><circle cx="128.36" cy="320.26" r="1.85"/><circle cx="128.36" cy="293.32" r="1.85"/></g>
<path d="M123 286.92H133.4M128.2 286.92V292.94M123 292.94H133.4" stroke="#8b9fd6" stroke-width="1.3" fill="none"/>
<g fill="#ead0a0"><circle cx="153.98" cy="261.13" r="1.85"/><circle cx="160.11" cy="260.47" r="1.85"/><circle cx="157.26" cy="265.95" r="1.85"/><circle cx="153.98" cy="271.42" r="1.85"/><circle cx="160.11" cy="270.77" r="1.85"/><circle cx="153.98" cy="276.24" r="1.85"/><circle cx="160.11" cy="276.24" r="1.85"/><circle cx="150.91" cy="282.81" r="1.85"/><circle cx="162.96" cy="282.81" r="1.85"/><circle cx="157.26" cy="285" r="1.85"/><circle cx="151.35" cy="296.17" r="1.85"/><circle cx="157.26" cy="296.61" r="1.85"/><circle cx="163.39" cy="296.17" r="1.85"/><circle cx="157.26" cy="309.74" r="1.85"/><circle cx="150.91" cy="315.88" r="1.85"/><circle cx="157.26" cy="318.07" r="1.85"/><circle cx="163.39" cy="316.31" r="1.85"/><circle cx="153.98" cy="331.2" r="1.85"/><circle cx="160.11" cy="331.2" r="1.85"/><circle cx="157.26" cy="290.04" r="1.85"/></g>
<path d="M151.95 286.63H162.35M157.15 286.63V295.86M151.95 295.86H162.35" stroke="#ebd3a3" stroke-width="1.3" fill="none"/>
<g fill="#c5dfe6"><circle cx="179.82" cy="263.32" r="1.85"/><circle cx="185.95" cy="265.95" r="1.85"/><circle cx="191.86" cy="263.32" r="1.85"/><circle cx="182.66" cy="270.77" r="1.85"/><circle cx="189.01" cy="269.89" r="1.85"/><circle cx="178.07" cy="274.05" r="1.85"/><circle cx="193.83" cy="272.52" r="1.85"/><circle cx="185.95" cy="274.71" r="1.85"/><circle cx="179.82" cy="277.99" r="1.85"/><circle cx="185.95" cy="279.09" r="1.85"/><circle cx="191.86" cy="277.99" r="1.85"/><circle cx="182.66" cy="283.47" r="1.85"/><circle cx="188.58" cy="283.47" r="1.85"/><circle cx="182.66" cy="286.75" r="1.85"/><circle cx="185.95" cy="290.04" r="1.85"/><circle cx="189.01" cy="292.66" r="1.85"/><circle cx="182.66" cy="295.51" r="1.85"/><circle cx="188.58" cy="275.15" r="1.85"/><circle cx="183.1" cy="276.46" r="1.85"/><circle cx="185.95" cy="282.37" r="1.85"/></g>
<path d="M180.85 274.12H191.25M186.05 274.12V277.88M180.85 277.88H191.25" stroke="#c9e1e8" stroke-width="1.3" fill="none"/>
<path d="M51.4 223.1V373.7H204.65" stroke="#000" stroke-width="2.0" fill="none" stroke-linecap="square"/>
<path d="M44 373.7H51.4M44 336.05H51.4M44 298.4H51.4M44 260.75H51.4M44 223.1H51.4M70.6 373.7V380.9M99.45 373.7V380.9M128.2 373.7V380.9M157.15 373.7V380.9M186.05 373.7V380.9" stroke="#000" stroke-width="1.7" fill="none"/>
<text class="t" x="43.4" y="378">0</text>
<text class="t" x="43.4" y="340.35">20</text>
<text class="t" x="43.4" y="302.7">40</text>
<text class="t" x="43.4" y="265.05">60</text>
<text class="t" x="43.4" y="227.4">80</text>
<text class="xl" transform="translate(76.3 388.7) rotate(-45)">Ctrl</text>
<text class="xl" transform="translate(105.25 388.7) rotate(-45)">SPS-S</text>
<text class="xl" transform="translate(140.7 388.7) rotate(-45)">SPS-S+I-LT</text>
<text class="xl" transform="translate(168.05 388.7) rotate(-45)">SPS-S+D-LT</text>
<text class="xl" transform="translate(194.35 388.7) rotate(-45)">SPS-S+ID-LT</text>
<text class="yl" transform="translate(25.4 375.5) rotate(-90)">Distance in total area (m)</text>
<path d="M99.3 179.6H185.8" stroke="#000" stroke-width="2.1" stroke-linecap="round"/>
<text class="st" x="143.5" y="176.9">***</text>
<path d="M99.3 211.5H128.1" stroke="#000" stroke-width="2.1" stroke-linecap="round"/>
<text class="ns" x="113.8" y="204.1">ns</text>
<path d="M70.7 242.7H96.5" stroke="#000" stroke-width="2.1" stroke-linecap="round"/>
<text class="st" x="84.1" y="240">****</text>
<path d="M102.6 242.7H156.9" stroke="#000" stroke-width="2.1" stroke-linecap="round"/>
<text class="ns" x="129.6" y="235.3">ns</text>
</g>
<g id="chartC">
<text class="L" x="233.9" y="182.6">C</text>
<rect x="288" y="301.75" width="17.8" height="70.05" fill="#e9e9e9" stroke="#d2d2d2" stroke-width="1.6"/>
<rect x="317.2" y="357.25" width="17.5" height="14.55" fill="#f3cdcd" stroke="#e18a8a" stroke-width="1.6"/>
<rect x="346.1" y="316.75" width="17.5" height="55.05" fill="#d1d7ee" stroke="#8b9fd6" stroke-width="1.6"/>
<rect x="374.9" y="304.75" width="17.2" height="67.05" fill="#f6ecd9" stroke="#ebd3a3" stroke-width="1.6"/>
<rect x="403.8" y="302.88" width="17.2" height="68.92" fill="#e3f0f3" stroke="#c9e1e8" stroke-width="1.6"/>
<g fill="#d3d3d3"><circle cx="296.89" cy="252.37" r="1.85"/><circle cx="296.89" cy="260.04" r="1.85"/><circle cx="296.89" cy="267.26" r="1.85"/><circle cx="294.04" cy="282.37" r="1.85"/><circle cx="299.96" cy="282.37" r="1.85"/><circle cx="296.89" cy="285.88" r="1.85"/><circle cx="296.89" cy="293.54" r="1.85"/><circle cx="294.04" cy="304.93" r="1.85"/><circle cx="299.96" cy="304.93" r="1.85"/><circle cx="296.89" cy="306.46" r="1.85"/><circle cx="294.04" cy="312.59" r="1.85"/><circle cx="299.96" cy="312.59" r="1.85"/><circle cx="294.04" cy="316.31" r="1.85"/><circle cx="299.96" cy="316.31" r="1.85"/><circle cx="294.04" cy="320.26" r="1.85"/><circle cx="299.96" cy="320.26" r="1.85"/><circle cx="296.89" cy="331.2" r="1.85"/><circle cx="294.04" cy="334.93" r="1.85"/><circle cx="299.96" cy="334.93" r="1.85"/><circle cx="296.89" cy="300.55" r="1.85"/></g>
<path d="M291.7 295.32H302.1M296.9 295.32V306.57M291.7 306.57H302.1" stroke="#d2d2d2" stroke-width="1.3" fill="none"/>
<g fill="#e08585"><circle cx="325.8" cy="316.31" r="1.85"/><circle cx="325.8" cy="338.87" r="1.85"/><circle cx="325.8" cy="342.59" r="1.85"/><circle cx="325.8" cy="346.09" r="1.85"/><circle cx="322.95" cy="349.82" r="1.85"/><circle cx="328.64" cy="349.82" r="1.85"/><circle cx="320.32" cy="353.76" r="1.85"/><circle cx="325.8" cy="353.76" r="1.85"/><circle cx="331.27" cy="353.76" r="1.85"/><circle cx="322.95" cy="357.48" r="1.85"/><circle cx="328.64" cy="357.48" r="1.85"/><circle cx="320.32" cy="361.2" r="1.85"/><circle cx="325.8" cy="361.2" r="1.85"/><circle cx="331.27" cy="361.2" r="1.85"/><circle cx="322.95" cy="365.15" r="1.85"/><circle cx="328.64" cy="365.15" r="1.85"/><circle cx="325.8" cy="368.43" r="1.85"/><circle cx="325.8" cy="371.72" r="1.85"/><circle cx="320.32" cy="368.43" r="1.85"/><circle cx="331.27" cy="368.43" r="1.85"/></g>
<path d="M320.75 353.45H331.15M325.95 353.45V359.45M320.75 359.45H331.15" stroke="#e18a8a" stroke-width="1.3" fill="none"/>
<g fill="#8a9eda"><circle cx="354.7" cy="274.93" r="1.85"/><circle cx="354.7" cy="290.04" r="1.85"/><circle cx="354.7" cy="293.54" r="1.85"/><circle cx="354.7" cy="304.93" r="1.85"/><circle cx="349.23" cy="308.65" r="1.85"/><circle cx="354.7" cy="308.65" r="1.85"/><circle cx="360.18" cy="308.65" r="1.85"/><circle cx="352.07" cy="319.6" r="1.85"/><circle cx="357.55" cy="319.6" r="1.85"/><circle cx="349.23" cy="323.54" r="1.85"/><circle cx="352.07" cy="323.54" r="1.85"/><circle cx="357.55" cy="323.54" r="1.85"/><circle cx="363.02" cy="327.48" r="1.85"/><circle cx="352.07" cy="327.48" r="1.85"/><circle cx="357.55" cy="327.48" r="1.85"/><circle cx="346.6" cy="327.48" r="1.85"/><circle cx="352.07" cy="331.2" r="1.85"/><circle cx="354.7" cy="331.2" r="1.85"/><circle cx="354.7" cy="338.87" r="1.85"/><circle cx="354.7" cy="342.59" r="1.85"/></g>
<path d="M349.65 312.2H360.05M354.85 312.2V319.7M349.65 319.7H360.05" stroke="#8b9fd6" stroke-width="1.3" fill="none"/>
<g fill="#ead0a0"><circle cx="383.39" cy="244.71" r="1.85"/><circle cx="383.39" cy="248.43" r="1.85"/><circle cx="383.39" cy="260.04" r="1.85"/><circle cx="383.39" cy="270.99" r="1.85"/><circle cx="383.39" cy="286.31" r="1.85"/><circle cx="383.39" cy="293.54" r="1.85"/><circle cx="377.26" cy="297.26" r="1.85"/><circle cx="383.39" cy="297.26" r="1.85"/><circle cx="389.3" cy="297.26" r="1.85"/><circle cx="383.39" cy="301.2" r="1.85"/><circle cx="380.54" cy="319.6" r="1.85"/><circle cx="386.45" cy="319.6" r="1.85"/><circle cx="383.39" cy="323.54" r="1.85"/><circle cx="380.54" cy="331.2" r="1.85"/><circle cx="386.45" cy="331.2" r="1.85"/><circle cx="377.26" cy="334.93" r="1.85"/><circle cx="389.3" cy="334.93" r="1.85"/><circle cx="383.39" cy="334.93" r="1.85"/><circle cx="383.39" cy="342.59" r="1.85"/><circle cx="383.39" cy="311.5" r="1.85"/></g>
<path d="M378.3 297.2H388.7M383.5 297.2V310.7M378.3 310.7H388.7" stroke="#ebd3a3" stroke-width="1.3" fill="none"/>
<g fill="#c5dfe6"><circle cx="412.29" cy="248.43" r="1.85"/><circle cx="412.29" cy="263.76" r="1.85"/><circle cx="412.29" cy="267.26" r="1.85"/><circle cx="412.29" cy="278.65" r="1.85"/><circle cx="412.29" cy="282.37" r="1.85"/><circle cx="409.45" cy="290.04" r="1.85"/><circle cx="415.14" cy="290.04" r="1.85"/><circle cx="412.29" cy="308.21" r="1.85"/><circle cx="406.38" cy="312.59" r="1.85"/><circle cx="412.29" cy="312.59" r="1.85"/><circle cx="418.2" cy="312.59" r="1.85"/><circle cx="412.29" cy="316.31" r="1.85"/><circle cx="409.45" cy="320.26" r="1.85"/><circle cx="415.14" cy="320.26" r="1.85"/><circle cx="412.29" cy="327.48" r="1.85"/><circle cx="406.38" cy="331.2" r="1.85"/><circle cx="412.29" cy="331.2" r="1.85"/><circle cx="418.2" cy="331.2" r="1.85"/><circle cx="412.29" cy="299.45" r="1.85"/><circle cx="412.29" cy="303.83" r="1.85"/></g>
<path d="M407.2 296.45H417.6M412.4 296.45V307.7M407.2 307.7H417.6" stroke="#c9e1e8" stroke-width="1.3" fill="none"/>
<path d="M277.5 222.2V372.2H431.75" stroke="#000" stroke-width="2.0" fill="none" stroke-linecap="square"/>
<path d="M270.1 372.2H277.5M270.1 334.7H277.5M270.1 297.2H277.5M270.1 259.7H277.5M270.1 222.2H277.5M296.9 372.2V379.4M325.95 372.2V379.4M354.85 372.2V379.4M383.5 372.2V379.4M412.4 372.2V379.4" stroke="#000" stroke-width="1.7" fill="none"/>
<text class="t" x="269.5" y="376.5">0</text>
<text class="t" x="269.5" y="339">10</text>
<text class="t" x="269.5" y="301.5">20</text>
<text class="t" x="269.5" y="264">30</text>
<text class="t" x="269.5" y="226.5">40</text>
<text class="xl" transform="translate(303.1 387.2) rotate(-45)">Ctrl</text>
<text class="xl" transform="translate(332.25 387.2) rotate(-45)">SPS-S</text>
<text class="xl" transform="translate(367.85 387.2) rotate(-45)">SPS-S+I-LT</text>
<text class="xl" transform="translate(394.9 387.2) rotate(-45)">SPS-S+D-LT</text>
<text class="xl" transform="translate(422.2 387.2) rotate(-45)">SPS-S+ID-LT</text>
<text class="yl" transform="translate(252.4 374) rotate(-90)">Entries of central area</text>
<path d="M326 163.3H383" stroke="#000" stroke-width="2.1" stroke-linecap="round"/>
<text class="st" x="355.4" y="160.6">****</text>
<path d="M326 194.9H354.1" stroke="#000" stroke-width="2.1" stroke-linecap="round"/>
<text class="st" x="341" y="192.2">****</text>
<path d="M297.5 226.8H322.2" stroke="#000" stroke-width="2.1" stroke-linecap="round"/>
<text class="st" x="310.8" y="224.1">****</text>
<path d="M329 226.8H412.2" stroke="#000" stroke-width="2.1" stroke-linecap="round"/>
<text class="st" x="371.5" y="224.1">****</text>
</g>
<g id="chartD">
<text class="L" x="462.9" y="182.9">D</text>
<rect x="510.8" y="368.45" width="17.6" height="2.45" fill="#e9e9e9" stroke="#d2d2d2" stroke-width="1.6"/>
<rect x="539.1" y="309.97" width="17.2" height="60.93" fill="#f3cdcd" stroke="#e18a8a" stroke-width="1.6"/>
<rect x="567.1" y="353.53" width="17.5" height="17.37" fill="#d1d7ee" stroke="#8b9fd6" stroke-width="1.6"/>
<rect x="595.1" y="313.33" width="17.5" height="57.57" fill="#f6ecd9" stroke="#ebd3a3" stroke-width="1.6"/>
<rect x="623.4" y="351.92" width="17.7" height="18.98" fill="#e3f0f3" stroke="#c9e1e8" stroke-width="1.6"/>
<g fill="#d3d3d3"><circle cx="519.67" cy="359.23" r="1.85"/><circle cx="517.04" cy="362.96" r="1.85"/><circle cx="522.52" cy="362.96" r="1.85"/><circle cx="519.67" cy="364.49" r="1.85"/><circle cx="513.76" cy="366.24" r="1.85"/><circle cx="517.04" cy="366.9" r="1.85"/><circle cx="519.67" cy="367.34" r="1.85"/><circle cx="522.52" cy="366.9" r="1.85"/><circle cx="525.8" cy="366.24" r="1.85"/><circle cx="511.57" cy="368.65" r="1.85"/><circle cx="514.85" cy="368.87" r="1.85"/><circle cx="518.14" cy="369.09" r="1.85"/><circle cx="521.42" cy="369.09" r="1.85"/><circle cx="524.71" cy="368.87" r="1.85"/><circle cx="527.99" cy="368.65" r="1.85"/><circle cx="519.67" cy="368.87" r="1.85"/><circle cx="515.95" cy="365.15" r="1.85"/><circle cx="523.61" cy="365.15" r="1.85"/><circle cx="513.32" cy="367.77" r="1.85"/><circle cx="526.46" cy="367.77" r="1.85"/></g>
<path d="M514.4 366.91H524.8M519.6 366.91V368.38M514.4 368.38H524.8" stroke="#d2d2d2" stroke-width="1.3" fill="none"/>
<g fill="#e08585"><circle cx="547.7" cy="288.94" r="1.85"/><circle cx="550.33" cy="292.88" r="1.85"/><circle cx="545.07" cy="296.61" r="1.85"/><circle cx="550.33" cy="296.61" r="1.85"/><circle cx="540.04" cy="297.26" r="1.85"/><circle cx="555.58" cy="295.07" r="1.85"/><circle cx="545.07" cy="302.74" r="1.85"/><circle cx="550.33" cy="302.74" r="1.85"/><circle cx="540.04" cy="312.59" r="1.85"/><circle cx="545.07" cy="313.69" r="1.85"/><circle cx="550.33" cy="313.69" r="1.85"/><circle cx="555.58" cy="312.59" r="1.85"/><circle cx="542.23" cy="316.97" r="1.85"/><circle cx="547.7" cy="316.97" r="1.85"/><circle cx="553.18" cy="316.97" r="1.85"/><circle cx="540.04" cy="321.35" r="1.85"/><circle cx="545.07" cy="321.35" r="1.85"/><circle cx="550.33" cy="323.54" r="1.85"/><circle cx="555.58" cy="320.26" r="1.85"/><circle cx="547.7" cy="309.96" r="1.85"/></g>
<path d="M542.5 306.83H552.9M547.7 306.83V311.5M542.5 311.5H552.9" stroke="#e18a8a" stroke-width="1.3" fill="none"/>
<g fill="#8a9eda"><circle cx="574.64" cy="318.72" r="1.85"/><circle cx="576.82" cy="319.82" r="1.85"/><circle cx="574.64" cy="326.82" r="1.85"/><circle cx="576.82" cy="326.17" r="1.85"/><circle cx="575.73" cy="338.21" r="1.85"/><circle cx="575.73" cy="354.64" r="1.85"/><circle cx="572.88" cy="357.48" r="1.85"/><circle cx="578.36" cy="356.39" r="1.85"/><circle cx="575.73" cy="359.01" r="1.85"/><circle cx="572.88" cy="361.86" r="1.85"/><circle cx="578.36" cy="361.86" r="1.85"/><circle cx="570.69" cy="368.43" r="1.85"/><circle cx="575.73" cy="368.43" r="1.85"/><circle cx="580.55" cy="368.43" r="1.85"/><circle cx="568.5" cy="369.53" r="1.85"/><circle cx="582.74" cy="369.53" r="1.85"/><circle cx="572.88" cy="365.15" r="1.85"/><circle cx="578.58" cy="365.58" r="1.85"/><circle cx="575.73" cy="364.05" r="1.85"/><circle cx="570.69" cy="365.15" r="1.85"/></g>
<path d="M570.65 348.64H581.05M575.85 348.64V356.83M570.65 356.83H581.05" stroke="#8b9fd6" stroke-width="1.3" fill="none"/>
<g fill="#ead0a0"><circle cx="603.76" cy="257.19" r="1.85"/><circle cx="603.76" cy="270.33" r="1.85"/><circle cx="603.76" cy="277.55" r="1.85"/><circle cx="600.91" cy="285.66" r="1.85"/><circle cx="606.39" cy="284.12" r="1.85"/><circle cx="603.76" cy="292.45" r="1.85"/><circle cx="611.64" cy="312.59" r="1.85"/><circle cx="600.91" cy="319.16" r="1.85"/><circle cx="606.39" cy="319.16" r="1.85"/><circle cx="596.97" cy="321.35" r="1.85"/><circle cx="603.76" cy="324.64" r="1.85"/><circle cx="610.11" cy="321.35" r="1.85"/><circle cx="603.76" cy="333.83" r="1.85"/><circle cx="603.76" cy="343.91" r="1.85"/><circle cx="603.76" cy="351.57" r="1.85"/><circle cx="603.76" cy="363.39" r="1.85"/><circle cx="603.76" cy="315.22" r="1.85"/><circle cx="601.35" cy="313.69" r="1.85"/><circle cx="606.17" cy="313.69" r="1.85"/><circle cx="603.76" cy="309.31" r="1.85"/></g>
<path d="M598.65 306.39H609.05M603.85 306.39V318.67M598.65 318.67H609.05" stroke="#ebd3a3" stroke-width="1.3" fill="none"/>
<g fill="#c5dfe6"><circle cx="627.63" cy="338.21" r="1.85"/><circle cx="636.39" cy="337.77" r="1.85"/><circle cx="632.01" cy="339.96" r="1.85"/><circle cx="632.01" cy="343.91" r="1.85"/><circle cx="624.34" cy="347.19" r="1.85"/><circle cx="639.67" cy="347.19" r="1.85"/><circle cx="628.72" cy="349.82" r="1.85"/><circle cx="635.29" cy="349.82" r="1.85"/><circle cx="625.44" cy="354.2" r="1.85"/><circle cx="632.01" cy="354.2" r="1.85"/><circle cx="638.58" cy="354.2" r="1.85"/><circle cx="628.72" cy="357.48" r="1.85"/><circle cx="635.29" cy="357.48" r="1.85"/><circle cx="632.01" cy="360.77" r="1.85"/><circle cx="628.72" cy="364.05" r="1.85"/><circle cx="635.29" cy="362.96" r="1.85"/><circle cx="632.01" cy="356.39" r="1.85"/><circle cx="632.01" cy="350.91" r="1.85"/><circle cx="638.58" cy="350.91" r="1.85"/><circle cx="626.53" cy="351.57" r="1.85"/></g>
<path d="M627.05 349.08H637.45M632.25 349.08V353.17M627.05 353.17H637.45" stroke="#c9e1e8" stroke-width="1.3" fill="none"/>
<path d="M501 225.1V371.3H650.55" stroke="#000" stroke-width="2.0" fill="none" stroke-linecap="square"/>
<path d="M493.6 371.3H501M493.6 342.06H501M493.6 312.82H501M493.6 283.58H501M493.6 254.34H501M493.6 225.1H501M519.6 371.3V378.5M547.7 371.3V378.5M575.85 371.3V378.5M603.85 371.3V378.5M632.25 371.3V378.5" stroke="#000" stroke-width="1.7" fill="none"/>
<text class="t" x="493" y="375.6">0</text>
<text class="t" x="493" y="346.36">20</text>
<text class="t" x="493" y="317.12">40</text>
<text class="t" x="493" y="287.88">60</text>
<text class="t" x="493" y="258.64">80</text>
<text class="t" x="493" y="229.4">100</text>
<text class="xl" transform="translate(527.3 386.3) rotate(-45)">Ctrl</text>
<text class="xl" transform="translate(555.5 386.3) rotate(-45)">SPS-S</text>
<text class="xl" transform="translate(590.85 386.3) rotate(-45)">SPS-S+I-LT</text>
<text class="xl" transform="translate(617.05 386.3) rotate(-45)">SPS-S+D-LT</text>
<text class="xl" transform="translate(644.05 386.3) rotate(-45)">SPS-S+ID-LT</text>
<text class="yl" transform="translate(476.4 372) rotate(-90)">Freezing%</text>
<path d="M548.2 178.3H631.4" stroke="#000" stroke-width="2.1" stroke-linecap="round"/>
<text class="st" x="591.1" y="175.6">****</text>
<path d="M548.2 209.2H575" stroke="#000" stroke-width="2.1" stroke-linecap="round"/>
<text class="st" x="563.2" y="206.5">****</text>
<path d="M519.7 239.8H544.8" stroke="#000" stroke-width="2.1" stroke-linecap="round"/>
<text class="st" x="533.3" y="237.1">****</text>
<path d="M550.9 239.8H603.5" stroke="#000" stroke-width="2.1" stroke-linecap="round"/>
<text class="ns" x="577.6" y="232.4">ns</text>
</g>
<g id="chartF">
<text class="L" x="2.3" y="627">F</text>
<rect x="67" y="736.37" width="17.2" height="84.23" fill="#e9e9e9" stroke="#d2d2d2" stroke-width="1.6"/>
<rect x="95.2" y="806.33" width="17.5" height="14.27" fill="#f3cdcd" stroke="#e18a8a" stroke-width="1.6"/>
<rect x="123.7" y="737.1" width="16.9" height="83.5" fill="#d1d7ee" stroke="#8b9fd6" stroke-width="1.6"/>
<rect x="151.9" y="740.05" width="17.2" height="80.55" fill="#f6ecd9" stroke="#ebd3a3" stroke-width="1.6"/>
<rect x="180.1" y="745.94" width="17.2" height="74.66" fill="#e3f0f3" stroke="#c9e1e8" stroke-width="1.6"/>
<g fill="#d3d3d3"><circle cx="75.11" cy="699.53" r="1.85"/><circle cx="72.04" cy="703.03" r="1.85"/><circle cx="78.18" cy="703.03" r="1.85"/><circle cx="75.11" cy="707.19" r="1.85"/><circle cx="75.11" cy="729.09" r="1.85"/><circle cx="72.04" cy="732.59" r="1.85"/><circle cx="78.18" cy="732.59" r="1.85"/><circle cx="72.04" cy="740.04" r="1.85"/><circle cx="75.11" cy="740.04" r="1.85"/><circle cx="78.18" cy="740.04" r="1.85"/><circle cx="68.76" cy="743.54" r="1.85"/><circle cx="75.11" cy="743.54" r="1.85"/><circle cx="81.46" cy="743.54" r="1.85"/><circle cx="68.76" cy="747.26" r="1.85"/><circle cx="75.11" cy="747.26" r="1.85"/><circle cx="81.46" cy="747.26" r="1.85"/><circle cx="75.11" cy="751.2" r="1.85"/><circle cx="72.04" cy="754.93" r="1.85"/><circle cx="78.18" cy="754.93" r="1.85"/><circle cx="75.11" cy="758.21" r="1.85"/></g>
<path d="M70.4 731.15H80.8M75.6 731.15V739.99M70.4 739.99H80.8" stroke="#d2d2d2" stroke-width="1.3" fill="none"/>
<g fill="#e08585"><circle cx="100.51" cy="791.5" r="1.85"/><circle cx="106.42" cy="791.5" r="1.85"/><circle cx="103.36" cy="795.44" r="1.85"/><circle cx="103.36" cy="799.16" r="1.85"/><circle cx="97.66" cy="802.66" r="1.85"/><circle cx="103.36" cy="802.66" r="1.85"/><circle cx="109.27" cy="802.66" r="1.85"/><circle cx="95.04" cy="806.39" r="1.85"/><circle cx="100.51" cy="806.39" r="1.85"/><circle cx="106.42" cy="806.39" r="1.85"/><circle cx="111.9" cy="806.39" r="1.85"/><circle cx="97.66" cy="810.11" r="1.85"/><circle cx="103.36" cy="810.11" r="1.85"/><circle cx="109.27" cy="810.11" r="1.85"/><circle cx="103.36" cy="813.61" r="1.85"/><circle cx="95.04" cy="818.43" r="1.85"/><circle cx="103.36" cy="818.43" r="1.85"/><circle cx="111.9" cy="818.43" r="1.85"/><circle cx="99.42" cy="815.15" r="1.85"/><circle cx="107.3" cy="815.15" r="1.85"/></g>
<path d="M98.75 803.69H109.15M103.95 803.69V807.37M98.75 807.37H109.15" stroke="#e18a8a" stroke-width="1.3" fill="none"/>
<g fill="#8a9eda"><circle cx="131.82" cy="695.8" r="1.85"/><circle cx="131.82" cy="703.47" r="1.85"/><circle cx="131.82" cy="710.69" r="1.85"/><circle cx="131.82" cy="714.42" r="1.85"/><circle cx="125.69" cy="718.14" r="1.85"/><circle cx="131.82" cy="718.14" r="1.85"/><circle cx="137.74" cy="718.14" r="1.85"/><circle cx="128.98" cy="725.36" r="1.85"/><circle cx="134.89" cy="725.36" r="1.85"/><circle cx="128.98" cy="732.59" r="1.85"/><circle cx="134.89" cy="732.59" r="1.85"/><circle cx="131.82" cy="740.04" r="1.85"/><circle cx="131.82" cy="743.54" r="1.85"/><circle cx="131.82" cy="754.93" r="1.85"/><circle cx="128.98" cy="762.59" r="1.85"/><circle cx="134.89" cy="762.59" r="1.85"/><circle cx="131.82" cy="765.88" r="1.85"/><circle cx="128.98" cy="780.77" r="1.85"/><circle cx="134.89" cy="780.77" r="1.85"/><circle cx="131.82" cy="734.12" r="1.85"/></g>
<path d="M126.95 730.41H137.35M132.15 730.41V742.19M126.95 742.19H137.35" stroke="#8b9fd6" stroke-width="1.3" fill="none"/>
<g fill="#ead0a0"><circle cx="160.07" cy="695.8" r="1.85"/><circle cx="160.07" cy="699.53" r="1.85"/><circle cx="154.16" cy="703.47" r="1.85"/><circle cx="160.07" cy="703.47" r="1.85"/><circle cx="166.2" cy="703.47" r="1.85"/><circle cx="157.01" cy="718.14" r="1.85"/><circle cx="163.14" cy="718.14" r="1.85"/><circle cx="157.01" cy="732.59" r="1.85"/><circle cx="163.14" cy="732.59" r="1.85"/><circle cx="160.07" cy="736.31" r="1.85"/><circle cx="160.07" cy="754.93" r="1.85"/><circle cx="160.07" cy="758.87" r="1.85"/><circle cx="160.07" cy="762.59" r="1.85"/><circle cx="154.16" cy="765.88" r="1.85"/><circle cx="160.07" cy="765.88" r="1.85"/><circle cx="166.2" cy="765.88" r="1.85"/><circle cx="160.07" cy="773.54" r="1.85"/><circle cx="160.07" cy="777.26" r="1.85"/><circle cx="160.07" cy="780.77" r="1.85"/><circle cx="160.07" cy="740.69" r="1.85"/></g>
<path d="M155.3 732.62H165.7M160.5 732.62V745.88M155.3 745.88H165.7" stroke="#ebd3a3" stroke-width="1.3" fill="none"/>
<g fill="#c5dfe6"><circle cx="188.54" cy="692.08" r="1.85"/><circle cx="188.54" cy="695.8" r="1.85"/><circle cx="188.54" cy="699.53" r="1.85"/><circle cx="188.54" cy="703.47" r="1.85"/><circle cx="188.54" cy="718.14" r="1.85"/><circle cx="188.54" cy="721.64" r="1.85"/><circle cx="188.54" cy="729.09" r="1.85"/><circle cx="188.54" cy="736.31" r="1.85"/><circle cx="188.54" cy="751.2" r="1.85"/><circle cx="188.54" cy="754.93" r="1.85"/><circle cx="188.54" cy="758.21" r="1.85"/><circle cx="185.47" cy="765.88" r="1.85"/><circle cx="191.39" cy="765.88" r="1.85"/><circle cx="182.63" cy="769.6" r="1.85"/><circle cx="194.67" cy="769.6" r="1.85"/><circle cx="185.47" cy="769.6" r="1.85"/><circle cx="191.39" cy="769.6" r="1.85"/><circle cx="185.47" cy="776.82" r="1.85"/><circle cx="191.39" cy="776.82" r="1.85"/><circle cx="188.54" cy="747.26" r="1.85"/></g>
<path d="M183.5 737.78H193.9M188.7 737.78V752.51M183.5 752.51H193.9" stroke="#c9e1e8" stroke-width="1.3" fill="none"/>
<path d="M56.5 673.7V821H208.05" stroke="#000" stroke-width="2.0" fill="none" stroke-linecap="square"/>
<path d="M49.1 821H56.5M49.1 784.17H56.5M49.1 747.35H56.5M49.1 710.53H56.5M49.1 673.7H56.5M75.6 821V828.2M103.95 821V828.2M132.15 821V828.2M160.5 821V828.2M188.7 821V828.2" stroke="#000" stroke-width="1.7" fill="none"/>
<text class="t" x="48.5" y="825.3">0</text>
<text class="t" x="48.5" y="788.47">10</text>
<text class="t" x="48.5" y="751.65">20</text>
<text class="t" x="48.5" y="714.83">30</text>
<text class="t" x="48.5" y="678">40</text>
<text class="xl" transform="translate(82.1 836) rotate(-45)">Ctrl</text>
<text class="xl" transform="translate(110.85 836) rotate(-45)">SPS-S</text>
<text class="xl" transform="translate(146.15 836) rotate(-45)">SPS-S+I-LT</text>
<text class="xl" transform="translate(172.9 836) rotate(-45)">SPS-S+D-LT</text>
<text class="xl" transform="translate(200 836) rotate(-45)">SPS-S+ID-LT</text>
<text class="yl" transform="translate(29.9 818.5) rotate(-90)">Entries of Open Arms</text>
<path d="M103.3 612.3H159.6" stroke="#000" stroke-width="2.1" stroke-linecap="round"/>
<text class="st" x="132.4" y="609.6">****</text>
<path d="M103.3 643.9H131.7" stroke="#000" stroke-width="2.1" stroke-linecap="round"/>
<text class="st" x="118.6" y="641.2">****</text>
<path d="M75.4 674.5H99.8" stroke="#000" stroke-width="2.1" stroke-linecap="round"/>
<text class="st" x="88.8" y="671.8">****</text>
<path d="M107 674.5H188.8" stroke="#000" stroke-width="2.1" stroke-linecap="round"/>
<text class="st" x="148.2" y="671.8">****</text>
</g>
<g id="chartG">
<text class="L" x="233.9" y="625.8">G</text>
<rect x="292.7" y="731" width="17.2" height="89.2" fill="#e9e9e9" stroke="#d2d2d2" stroke-width="1.6"/>
<rect x="320.8" y="813.22" width="17.6" height="6.98" fill="#f3cdcd" stroke="#e18a8a" stroke-width="1.6"/>
<rect x="349.4" y="745.51" width="17.6" height="74.69" fill="#d1d7ee" stroke="#8b9fd6" stroke-width="1.6"/>
<rect x="378" y="750.35" width="17.5" height="69.85" fill="#f6ecd9" stroke="#ebd3a3" stroke-width="1.6"/>
<rect x="406.5" y="755.93" width="17.5" height="64.27" fill="#e3f0f3" stroke="#c9e1e8" stroke-width="1.6"/>
<g fill="#d3d3d3"><circle cx="301.42" cy="690.77" r="1.85"/><circle cx="301.42" cy="709.6" r="1.85"/><circle cx="298.58" cy="716.61" r="1.85"/><circle cx="293.32" cy="718.14" r="1.85"/><circle cx="304.05" cy="717.26" r="1.85"/><circle cx="298.58" cy="720.33" r="1.85"/><circle cx="301.42" cy="723.61" r="1.85"/><circle cx="298.58" cy="732.37" r="1.85"/><circle cx="304.05" cy="732.37" r="1.85"/><circle cx="298.58" cy="736.97" r="1.85"/><circle cx="304.05" cy="734.56" r="1.85"/><circle cx="298.58" cy="741.35" r="1.85"/><circle cx="304.05" cy="739.6" r="1.85"/><circle cx="304.05" cy="743.98" r="1.85"/><circle cx="298.58" cy="747.92" r="1.85"/><circle cx="304.05" cy="749.45" r="1.85"/><circle cx="301.42" cy="757.12" r="1.85"/><circle cx="301.42" cy="729.74" r="1.85"/><circle cx="301.42" cy="727.55" r="1.85"/><circle cx="295.95" cy="733.03" r="1.85"/></g>
<path d="M296.1 726.86H306.5M301.3 726.86V733.55M296.1 733.55H306.5" stroke="#d2d2d2" stroke-width="1.3" fill="none"/>
<g fill="#e08585"><circle cx="326.61" cy="804.64" r="1.85"/><circle cx="329.89" cy="806.39" r="1.85"/><circle cx="333.18" cy="805.73" r="1.85"/><circle cx="323.32" cy="809.67" r="1.85"/><circle cx="329.89" cy="809.01" r="1.85"/><circle cx="335.8" cy="811.2" r="1.85"/><circle cx="326.61" cy="812.52" r="1.85"/><circle cx="332.74" cy="812.96" r="1.85"/><circle cx="321.13" cy="812.96" r="1.85"/><circle cx="323.32" cy="815.15" r="1.85"/><circle cx="329.89" cy="815.15" r="1.85"/><circle cx="336.46" cy="815.15" r="1.85"/><circle cx="326.61" cy="817.34" r="1.85"/><circle cx="333.18" cy="817.34" r="1.85"/><circle cx="329.89" cy="818.43" r="1.85"/><circle cx="321.13" cy="816.9" r="1.85"/><circle cx="337.55" cy="817.34" r="1.85"/><circle cx="324.42" cy="818.43" r="1.85"/><circle cx="334.93" cy="818.43" r="1.85"/><circle cx="328.8" cy="811.86" r="1.85"/></g>
<path d="M324.4 811.3H334.8M329.6 811.3V813.53M324.4 813.53H334.8" stroke="#e18a8a" stroke-width="1.3" fill="none"/>
<g fill="#8a9eda"><circle cx="355.51" cy="727.99" r="1.85"/><circle cx="360.99" cy="727.55" r="1.85"/><circle cx="360.99" cy="731.28" r="1.85"/><circle cx="355.51" cy="734.78" r="1.85"/><circle cx="350.26" cy="736.31" r="1.85"/><circle cx="360.99" cy="735.88" r="1.85"/><circle cx="366.46" cy="733.69" r="1.85"/><circle cx="358.36" cy="739.16" r="1.85"/><circle cx="350.26" cy="746.17" r="1.85"/><circle cx="355.51" cy="750.11" r="1.85"/><circle cx="366.46" cy="750.55" r="1.85"/><circle cx="360.99" cy="756.02" r="1.85"/><circle cx="350.26" cy="758.21" r="1.85"/><circle cx="366.46" cy="759.31" r="1.85"/><circle cx="360.99" cy="761.06" r="1.85"/><circle cx="350.26" cy="761.5" r="1.85"/><circle cx="358.36" cy="745.07" r="1.85"/><circle cx="361.64" cy="746.17" r="1.85"/><circle cx="355.51" cy="745.07" r="1.85"/><circle cx="363.83" cy="745.07" r="1.85"/></g>
<path d="M353 742.48H363.4M358.2 742.48V746.94M353 746.94H363.4" stroke="#8b9fd6" stroke-width="1.3" fill="none"/>
<g fill="#ead0a0"><circle cx="394.49" cy="715.07" r="1.85"/><circle cx="382.45" cy="717.04" r="1.85"/><circle cx="386.82" cy="717.7" r="1.85"/><circle cx="390.77" cy="717.26" r="1.85"/><circle cx="382.45" cy="724.93" r="1.85"/><circle cx="386.82" cy="726.46" r="1.85"/><circle cx="386.82" cy="731.5" r="1.85"/><circle cx="382.45" cy="752.74" r="1.85"/><circle cx="386.82" cy="751.64" r="1.85"/><circle cx="390.77" cy="752.74" r="1.85"/><circle cx="386.82" cy="755.58" r="1.85"/><circle cx="382.45" cy="759.31" r="1.85"/><circle cx="390.77" cy="759.31" r="1.85"/><circle cx="386.82" cy="762.15" r="1.85"/><circle cx="390.77" cy="768.72" r="1.85"/><circle cx="382.45" cy="771.35" r="1.85"/><circle cx="386.82" cy="771.35" r="1.85"/><circle cx="392.3" cy="770.26" r="1.85"/><circle cx="386.82" cy="776.17" r="1.85"/><circle cx="379.16" cy="769.16" r="1.85"/></g>
<path d="M381.55 744.71H391.95M386.75 744.71V754.38M381.55 754.38H391.95" stroke="#ebd3a3" stroke-width="1.3" fill="none"/>
<g fill="#c5dfe6"><circle cx="415.29" cy="720.33" r="1.85"/><circle cx="415.29" cy="728.65" r="1.85"/><circle cx="417.92" cy="733.69" r="1.85"/><circle cx="407.19" cy="735.88" r="1.85"/><circle cx="412.66" cy="736.31" r="1.85"/><circle cx="417.92" cy="738.5" r="1.85"/><circle cx="412.66" cy="740.04" r="1.85"/><circle cx="417.92" cy="750.55" r="1.85"/><circle cx="412.66" cy="764.78" r="1.85"/><circle cx="417.92" cy="764.78" r="1.85"/><circle cx="412.66" cy="768.72" r="1.85"/><circle cx="417.92" cy="770.26" r="1.85"/><circle cx="412.66" cy="774.64" r="1.85"/><circle cx="417.92" cy="776.39" r="1.85"/><circle cx="415.29" cy="787.34" r="1.85"/><circle cx="409.82" cy="762.59" r="1.85"/><circle cx="420.77" cy="762.59" r="1.85"/><circle cx="412.66" cy="751.64" r="1.85"/><circle cx="415.29" cy="757.12" r="1.85"/><circle cx="415.29" cy="760.4" r="1.85"/></g>
<path d="M410.05 750.66H420.45M415.25 750.66V759.59M410.05 759.59H420.45" stroke="#c9e1e8" stroke-width="1.3" fill="none"/>
<path d="M282.4 671.8V820.6H434.15" stroke="#000" stroke-width="2.0" fill="none" stroke-linecap="square"/>
<path d="M275 820.6H282.4M275 783.4H282.4M275 746.2H282.4M275 709H282.4M275 671.8H282.4M301.3 820.6V827.8M329.6 820.6V827.8M358.2 820.6V827.8M386.75 820.6V827.8M415.25 820.6V827.8" stroke="#000" stroke-width="1.7" fill="none"/>
<text class="t" x="274.4" y="824.9">0</text>
<text class="t" x="274.4" y="787.7">100</text>
<text class="t" x="274.4" y="750.5">200</text>
<text class="t" x="274.4" y="713.3">300</text>
<text class="t" x="274.4" y="676.1">400</text>
<text class="xl" transform="translate(307.8 835.6) rotate(-45)">Ctrl</text>
<text class="xl" transform="translate(336.5 835.6) rotate(-45)">SPS-S</text>
<text class="xl" transform="translate(372.4 835.6) rotate(-45)">SPS-S+I-LT</text>
<text class="xl" transform="translate(399.05 835.6) rotate(-45)">SPS-S+D-LT</text>
<text class="xl" transform="translate(426.35 835.6) rotate(-45)">SPS-S+ID-LT</text>
<text class="yl" transform="translate(254 818.5) rotate(-90)">Time in Open Arms</text>
<path d="M330 609.9H386" stroke="#000" stroke-width="2.1" stroke-linecap="round"/>
<text class="st" x="358.8" y="607.2">****</text>
<path d="M330 641.8H357.8" stroke="#000" stroke-width="2.1" stroke-linecap="round"/>
<text class="st" x="344.7" y="639.1">****</text>
<path d="M301.5 673H325.9" stroke="#000" stroke-width="2.1" stroke-linecap="round"/>
<text class="st" x="314.8" y="670.3">****</text>
<path d="M333.1 673H414.9" stroke="#000" stroke-width="2.1" stroke-linecap="round"/>
<text class="st" x="374.9" y="670.3">****</text>
</g>
<g id="chartH">
<text class="L" x="462.8" y="625.8">H</text>
<rect x="516.2" y="753.61" width="17.6" height="65.49" fill="#e9e9e9" stroke="#d2d2d2" stroke-width="1.6"/>
<rect x="544.8" y="816.97" width="17.5" height="2.13" fill="#f3cdcd" stroke="#e18a8a" stroke-width="1.6"/>
<rect x="573.3" y="766.95" width="17.2" height="52.15" fill="#d1d7ee" stroke="#8b9fd6" stroke-width="1.6"/>
<rect x="601.5" y="766.95" width="17.6" height="52.15" fill="#f6ecd9" stroke="#ebd3a3" stroke-width="1.6"/>
<rect x="630.1" y="778.8" width="17.2" height="40.3" fill="#e3f0f3" stroke="#c9e1e8" stroke-width="1.6"/>
<g fill="#d3d3d3"><circle cx="524.89" cy="679.38" r="1.85"/><circle cx="524.89" cy="719.89" r="1.85"/><circle cx="524.89" cy="727.55" r="1.85"/><circle cx="530.8" cy="736.97" r="1.85"/><circle cx="524.89" cy="738.07" r="1.85"/><circle cx="530.8" cy="741.35" r="1.85"/><circle cx="524.89" cy="743.98" r="1.85"/><circle cx="518.76" cy="748.8" r="1.85"/><circle cx="524.89" cy="749.89" r="1.85"/><circle cx="518.76" cy="756.02" r="1.85"/><circle cx="524.89" cy="757.12" r="1.85"/><circle cx="530.8" cy="756.02" r="1.85"/><circle cx="524.89" cy="764.34" r="1.85"/><circle cx="518.76" cy="767.63" r="1.85"/><circle cx="524.89" cy="768.5" r="1.85"/><circle cx="518.76" cy="775.07" r="1.85"/><circle cx="524.89" cy="776.17" r="1.85"/><circle cx="524.89" cy="780.55" r="1.85"/><circle cx="522.04" cy="784.93" r="1.85"/><circle cx="527.96" cy="784.93" r="1.85"/></g>
<path d="M519.8 746.88H530.2M525 746.88V758.74M519.8 758.74H530.2" stroke="#d2d2d2" stroke-width="1.3" fill="none"/>
<g fill="#e08585"><circle cx="559.27" cy="811.86" r="1.85"/><circle cx="550.51" cy="813.39" r="1.85"/><circle cx="554.89" cy="812.96" r="1.85"/><circle cx="547.23" cy="815.15" r="1.85"/><circle cx="552.7" cy="815.15" r="1.85"/><circle cx="558.18" cy="815.15" r="1.85"/><circle cx="545.04" cy="816.9" r="1.85"/><circle cx="549.42" cy="817.34" r="1.85"/><circle cx="554.89" cy="817.34" r="1.85"/><circle cx="560.36" cy="816.9" r="1.85"/><circle cx="546.13" cy="818.43" r="1.85"/><circle cx="551.61" cy="818.87" r="1.85"/><circle cx="557.08" cy="818.87" r="1.85"/><circle cx="561.46" cy="818.43" r="1.85"/><circle cx="548.32" cy="816.24" r="1.85"/><circle cx="553.8" cy="816.24" r="1.85"/><circle cx="559.27" cy="817.77" r="1.85"/><circle cx="555.99" cy="814.27" r="1.85"/><circle cx="550.51" cy="815.58" r="1.85"/><circle cx="553.36" cy="818.43" r="1.85"/></g>
<path d="M548.35 815.42H558.75M553.55 815.42V816.91M548.35 816.91H558.75" stroke="#e18a8a" stroke-width="1.3" fill="none"/>
<g fill="#8a9eda"><circle cx="587.74" cy="734.34" r="1.85"/><circle cx="581.82" cy="735.66" r="1.85"/><circle cx="581.82" cy="744.42" r="1.85"/><circle cx="575.69" cy="750.11" r="1.85"/><circle cx="575.69" cy="753.18" r="1.85"/><circle cx="587.74" cy="752.74" r="1.85"/><circle cx="587.74" cy="757.77" r="1.85"/><circle cx="581.82" cy="759.31" r="1.85"/><circle cx="587.74" cy="760.84" r="1.85"/><circle cx="575.69" cy="766.97" r="1.85"/><circle cx="581.82" cy="768.72" r="1.85"/><circle cx="575.69" cy="770.26" r="1.85"/><circle cx="578.98" cy="777.26" r="1.85"/><circle cx="584.89" cy="776.82" r="1.85"/><circle cx="581.82" cy="787.34" r="1.85"/><circle cx="587.74" cy="787.34" r="1.85"/><circle cx="581.82" cy="790.62" r="1.85"/><circle cx="584.89" cy="794.78" r="1.85"/><circle cx="578.98" cy="796.97" r="1.85"/><circle cx="581.82" cy="763.69" r="1.85"/></g>
<path d="M576.7 762.07H587.1M581.9 762.07V770.22M576.7 770.22H587.1" stroke="#8b9fd6" stroke-width="1.3" fill="none"/>
<g fill="#ead0a0"><circle cx="610.29" cy="722.52" r="1.85"/><circle cx="604.16" cy="733.03" r="1.85"/><circle cx="610.29" cy="734.12" r="1.85"/><circle cx="610.29" cy="737.85" r="1.85"/><circle cx="610.29" cy="742.45" r="1.85"/><circle cx="607.45" cy="750.55" r="1.85"/><circle cx="613.14" cy="750.55" r="1.85"/><circle cx="610.29" cy="757.77" r="1.85"/><circle cx="610.29" cy="763.69" r="1.85"/><circle cx="607.45" cy="779.67" r="1.85"/><circle cx="613.14" cy="779.01" r="1.85"/><circle cx="604.16" cy="786.24" r="1.85"/><circle cx="610.29" cy="785.58" r="1.85"/><circle cx="616.64" cy="786.68" r="1.85"/><circle cx="610.29" cy="788.87" r="1.85"/><circle cx="610.29" cy="792.15" r="1.85"/><circle cx="607.45" cy="798.28" r="1.85"/><circle cx="613.14" cy="796.09" r="1.85"/><circle cx="610.29" cy="769.16" r="1.85"/><circle cx="610.29" cy="761.5" r="1.85"/></g>
<path d="M605.1 760.96H615.5M610.3 760.96V771.34M605.1 771.34H615.5" stroke="#ebd3a3" stroke-width="1.3" fill="none"/>
<g fill="#c5dfe6"><circle cx="633.28" cy="760.84" r="1.85"/><circle cx="638.76" cy="761.93" r="1.85"/><circle cx="644.01" cy="761.5" r="1.85"/><circle cx="635.91" cy="764.78" r="1.85"/><circle cx="630.44" cy="766.53" r="1.85"/><circle cx="646.86" cy="769.16" r="1.85"/><circle cx="630.44" cy="769.82" r="1.85"/><circle cx="641.39" cy="770.91" r="1.85"/><circle cx="635.91" cy="779.67" r="1.85"/><circle cx="641.39" cy="779.67" r="1.85"/><circle cx="638.76" cy="784.49" r="1.85"/><circle cx="635.91" cy="788.87" r="1.85"/><circle cx="641.39" cy="788.87" r="1.85"/><circle cx="641.39" cy="791.72" r="1.85"/><circle cx="646.86" cy="789.96" r="1.85"/><circle cx="635.91" cy="795" r="1.85"/><circle cx="641.39" cy="794.34" r="1.85"/><circle cx="633.28" cy="788.87" r="1.85"/><circle cx="638.76" cy="776.17" r="1.85"/><circle cx="635.91" cy="776.17" r="1.85"/></g>
<path d="M633.5 775.04H643.9M638.7 775.04V780.97M633.5 780.97H643.9" stroke="#c9e1e8" stroke-width="1.3" fill="none"/>
<path d="M505.9 671.3V819.5H658.35" stroke="#000" stroke-width="2.0" fill="none" stroke-linecap="square"/>
<path d="M498.5 819.5H505.9M498.5 782.45H505.9M498.5 745.4H505.9M498.5 708.35H505.9M498.5 671.3H505.9M525 819.5V826.7M553.55 819.5V826.7M581.9 819.5V826.7M610.3 819.5V826.7M638.7 819.5V826.7" stroke="#000" stroke-width="1.7" fill="none"/>
<text class="t" x="497.9" y="823.8">0</text>
<text class="t" x="497.9" y="786.75">5</text>
<text class="t" x="497.9" y="749.7">10</text>
<text class="t" x="497.9" y="712.65">15</text>
<text class="t" x="497.9" y="675.6">20</text>
<text class="xl" transform="translate(532 834.5) rotate(-45)">Ctrl</text>
<text class="xl" transform="translate(560.65 834.5) rotate(-45)">SPS-S</text>
<text class="xl" transform="translate(596.2 834.5) rotate(-45)">SPS-S+I-LT</text>
<text class="xl" transform="translate(623 834.5) rotate(-45)">SPS-S+D-LT</text>
<text class="xl" transform="translate(650 834.5) rotate(-45)">SPS-S+ID-LT</text>
<text class="yl" transform="translate(479.1 818) rotate(-90)">Distances in Open Arms</text>
<path d="M553.9 598.6H609.9" stroke="#000" stroke-width="2.1" stroke-linecap="round"/>
<text class="st" x="582.1" y="595.9">****</text>
<path d="M553.9 630.1H582" stroke="#000" stroke-width="2.1" stroke-linecap="round"/>
<text class="st" x="568.6" y="627.4">****</text>
<path d="M525.4 661.7H549.8" stroke="#000" stroke-width="2.1" stroke-linecap="round"/>
<text class="st" x="538.4" y="659">****</text>
<path d="M556.6 661.7H638.8" stroke="#000" stroke-width="2.1" stroke-linecap="round"/>
<text class="st" x="598.5" y="659">****</text>
</g>
</svg></body></html>
